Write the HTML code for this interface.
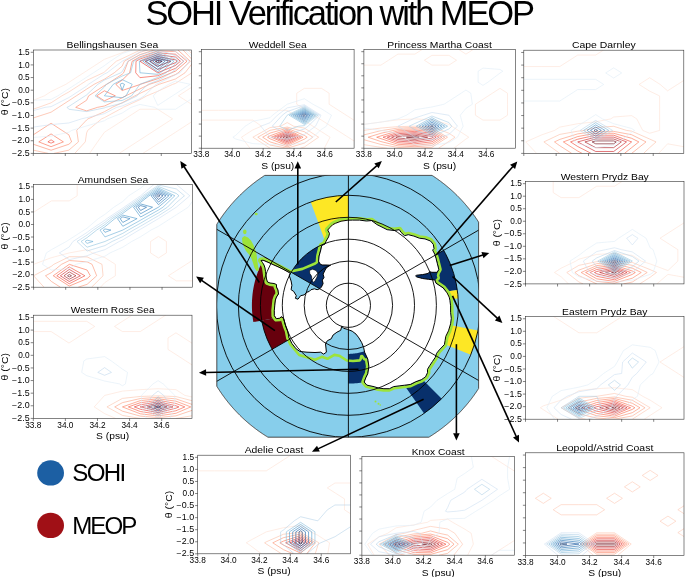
<!DOCTYPE html>
<html><head><meta charset="utf-8"><style>
html,body{margin:0;padding:0;background:#fff;}
svg{display:block;font-family:"Liberation Sans", sans-serif;will-change:transform;}
</style></head><body>
<svg width="685" height="577" viewBox="0 0 685 577">
<defs><clipPath id="clip0"><rect x="33.30" y="50.00" width="158.20" height="103.40"/></clipPath><clipPath id="clip1"><rect x="201.40" y="49.50" width="152.70" height="98.70"/></clipPath><clipPath id="clip2"><rect x="363.90" y="49.50" width="151.40" height="98.70"/></clipPath><clipPath id="clip3"><rect x="523.80" y="50.20" width="160.00" height="103.20"/></clipPath><clipPath id="clip4"><rect x="33.60" y="184.60" width="158.80" height="102.60"/></clipPath><clipPath id="clip5"><rect x="525.50" y="181.40" width="158.50" height="102.50"/></clipPath><clipPath id="clip6"><rect x="33.30" y="315.20" width="158.70" height="103.20"/></clipPath><clipPath id="clip7"><rect x="525.50" y="316.50" width="158.50" height="102.70"/></clipPath><clipPath id="clip8"><rect x="197.70" y="455.20" width="152.70" height="98.60"/></clipPath><clipPath id="clip9"><rect x="361.90" y="456.60" width="152.60" height="98.60"/></clipPath><clipPath id="clip10"><rect x="525.50" y="452.80" width="158.50" height="102.70"/></clipPath><clipPath id="mapclip"><path d="M478.60 222.13L478.42 221.84L477.91 221.05L477.39 220.25L476.86 219.46L476.33 218.68L475.80 217.89L475.26 217.11L474.72 216.34L474.17 215.56L473.62 214.79L473.06 214.03L472.50 213.26L471.93 212.50L471.36 211.75L470.78 211.00L470.20 210.25L469.61 209.50L469.02 208.76L468.43 208.02L467.83 207.29L467.23 206.56L466.62 205.83L466.01 205.10L465.39 204.38L464.77 203.67L464.14 202.96L463.51 202.25L462.88 201.54L462.24 200.84L461.60 200.15L460.95 199.45L460.30 198.77L459.64 198.08L458.98 197.40L458.32 196.72L457.65 196.05L456.98 195.38L456.30 194.72L455.62 194.06L454.93 193.40L454.25 192.75L453.55 192.10L452.86 191.46L452.16 190.82L451.45 190.19L450.74 189.56L450.03 188.93L449.32 188.31L448.60 187.69L447.87 187.08L447.14 186.47L446.41 185.87L445.68 185.27L444.94 184.68L444.20 184.09L443.45 183.50L442.70 182.92L441.95 182.34L441.20 181.77L440.44 181.20L439.67 180.64L438.91 180.08L438.14 179.53L437.36 178.98L436.59 178.44L435.81 177.90L435.02 177.37L434.24 176.84L433.45 176.31L432.65 175.79L432.04 175.40L264.76 175.40L264.15 175.79L263.35 176.31L262.56 176.84L261.78 177.37L260.99 177.90L260.21 178.44L259.44 178.98L258.66 179.53L257.89 180.08L257.13 180.64L256.36 181.20L255.60 181.77L254.85 182.34L254.10 182.92L253.35 183.50L252.60 184.09L251.86 184.68L251.12 185.27L250.39 185.87L249.66 186.47L248.93 187.08L248.20 187.69L247.48 188.31L246.77 188.93L246.06 189.56L245.35 190.19L244.64 190.82L243.94 191.46L243.25 192.10L242.55 192.75L241.87 193.40L241.18 194.06L240.50 194.72L239.82 195.38L239.15 196.05L238.48 196.72L237.82 197.40L237.16 198.08L236.50 198.77L235.85 199.45L235.20 200.15L234.56 200.84L233.92 201.54L233.29 202.25L232.66 202.96L232.03 203.67L231.41 204.38L230.79 205.10L230.18 205.83L229.57 206.56L228.97 207.29L228.37 208.02L227.78 208.76L227.19 209.50L226.60 210.25L226.02 211.00L225.44 211.75L224.87 212.50L224.30 213.26L223.74 214.03L223.18 214.79L222.63 215.56L222.08 216.34L221.54 217.11L221.00 217.89L220.47 218.68L219.94 219.46L219.41 220.25L218.89 221.05L218.38 221.84L217.87 222.64L217.37 223.45L216.87 224.25L216.80 224.36L216.80 386.24L216.87 386.35L217.37 387.15L217.87 387.96L218.38 388.76L218.89 389.55L219.41 390.35L219.94 391.14L220.47 391.92L221.00 392.71L221.54 393.49L222.08 394.26L222.63 395.04L223.18 395.81L223.74 396.57L224.30 397.34L224.87 398.10L225.44 398.85L226.02 399.60L226.60 400.35L227.19 401.10L227.78 401.84L228.37 402.58L228.97 403.31L229.57 404.04L230.18 404.77L230.79 405.50L231.41 406.22L232.03 406.93L232.66 407.64L233.29 408.35L233.92 409.06L234.56 409.76L235.20 410.45L235.85 411.15L236.50 411.83L237.16 412.52L237.82 413.20L238.48 413.88L239.15 414.55L239.82 415.22L240.50 415.88L241.18 416.54L241.87 417.20L242.55 417.85L243.25 418.50L243.94 419.14L244.64 419.78L245.35 420.41L246.06 421.04L246.77 421.67L247.48 422.29L248.20 422.91L248.93 423.52L249.66 424.13L250.39 424.73L251.12 425.33L251.86 425.92L252.60 426.51L253.35 427.10L254.10 427.68L254.85 428.26L255.60 428.83L256.36 429.40L257.13 429.96L257.89 430.52L258.66 431.07L259.44 431.62L260.21 432.16L260.99 432.70L261.78 433.23L262.56 433.76L263.35 434.29L264.15 434.81L264.94 435.32L265.74 435.83L266.55 436.33L267.35 436.83L267.95 437.20L428.85 437.20L429.45 436.83L430.25 436.33L431.06 435.83L431.86 435.32L432.65 434.81L433.45 434.29L434.24 433.76L435.02 433.23L435.81 432.70L436.59 432.16L437.36 431.62L438.14 431.07L438.91 430.52L439.67 429.96L440.44 429.40L441.20 428.83L441.95 428.26L442.70 427.68L443.45 427.10L444.20 426.51L444.94 425.92L445.68 425.33L446.41 424.73L447.14 424.13L447.87 423.52L448.60 422.91L449.32 422.29L450.03 421.67L450.74 421.04L451.45 420.41L452.16 419.78L452.86 419.14L453.55 418.50L454.25 417.85L454.93 417.20L455.62 416.54L456.30 415.88L456.98 415.22L457.65 414.55L458.32 413.88L458.98 413.20L459.64 412.52L460.30 411.83L460.95 411.15L461.60 410.45L462.24 409.76L462.88 409.06L463.51 408.35L464.14 407.64L464.77 406.93L465.39 406.22L466.01 405.50L466.62 404.77L467.23 404.04L467.83 403.31L468.43 402.58L469.02 401.84L469.61 401.10L470.20 400.35L470.78 399.60L471.36 398.85L471.93 398.10L472.50 397.34L473.06 396.57L473.62 395.81L474.17 395.04L474.72 394.26L475.26 393.49L475.80 392.71L476.33 391.92L476.86 391.14L477.39 390.35L477.91 389.55L478.42 388.76L478.60 388.47Z"/></clipPath></defs>
<rect width="685" height="577" fill="#fff"/>
<text x="145.4" y="25.0" font-size="34.5" letter-spacing="-2.12" fill="#000">SOHI Verification with MEOP</text>
<ellipse cx="50.6" cy="472.9" rx="13.4" ry="12.7" fill="#1c5fa3"/>
<ellipse cx="50.6" cy="525.4" rx="13.4" ry="12.7" fill="#a01016"/>
<text x="72.3" y="481.3" font-size="24.1" letter-spacing="-1.7" fill="#000">SOHI</text>
<text x="72.2" y="534.3" font-size="24.1" letter-spacing="-1.9" fill="#000">MEOP</text>
<g clip-path="url(#clip0)"><g fill="none" stroke-width="0.6" stroke-linejoin="round"><path d="M89.58 153.40L97.56 141.88L104.39 132.29L107.36 130.37L122.17 120.77L125.13 118.85L139.94 109.25L157.71 109.25L172.52 118.85L157.71 128.45L154.75 130.37L139.94 139.96L136.98 141.88L122.17 151.48L119.20 153.40M142.90 153.40L157.71 143.80L160.68 141.88L175.49 132.29L178.45 130.37L193.26 120.77M193.26 105.41L178.45 95.82L193.26 86.22M129.00 49.75L122.17 52.70L104.39 59.34L101.43 61.26L86.62 70.86L83.66 72.78L68.85 82.38L65.88 84.30L51.07 91.50L44.41 95.82L33.30 100.24M193.26 49.75Z" stroke="#fee1d4"/><path d="M74.77 153.40L85.25 141.88L86.62 133.02L87.73 130.37L101.66 118.85L104.39 117.67L122.17 108.05L123.28 107.33L139.94 99.65L146.89 95.82L157.71 91.34L172.75 84.30L175.49 83.41L191.89 72.78L193.26 71.01M141.31 49.75L139.94 50.19L122.17 58.61L116.24 61.26L104.39 72.06L103.28 72.78L86.62 80.46L80.70 84.30L68.85 91.98L61.89 95.82L51.07 102.83L38.77 107.33L33.30 109.10M193.26 55.23L188.03 49.75" stroke="#fdc5ae"/><path d="M33.30 150.15L48.34 153.40M53.81 153.40L68.85 150.15L78.42 141.88L76.73 130.37L86.62 119.96L87.99 118.85L104.39 111.76L112.28 107.33L122.17 102.71L134.93 95.82L139.94 93.38L157.71 84.94L159.08 84.30L175.49 78.98L185.06 72.78L193.26 62.15M148.14 49.75L139.94 52.40L124.31 61.26L122.17 66.14L114.28 72.78L104.39 79.19L94.14 84.30L86.62 89.17L76.37 95.82L68.85 100.69L58.59 107.33L51.07 112.20L33.30 117.96M193.26 60.72L182.80 49.75" stroke="#fca689"/><path d="M33.30 144.25L51.07 150.21L68.85 144.25L71.58 141.88L68.85 134.80L62.01 130.37L51.07 123.28L40.14 130.37L33.30 134.80M154.98 49.75L139.94 54.62L128.22 61.26L123.67 72.78L122.17 74.26L106.67 84.30L104.39 85.60L88.63 95.82L86.62 100.24L75.68 107.33L86.62 110.88L97.56 107.33L104.39 106.03L122.17 97.78L125.81 95.82L139.94 88.95L149.51 84.30L157.71 81.64L175.49 74.55L178.22 72.78L190.30 61.26L177.58 49.75" stroke="#fc8666"/><path d="M38.77 141.88L51.07 146.67L63.38 141.88L51.07 133.91ZM96.67 95.82L104.39 100.82L115.33 95.82L104.39 90.81ZM115.79 84.30L122.17 90.50L139.94 84.52L140.40 84.30L157.71 78.69L171.38 72.78L175.49 71.10L187.01 61.26L175.49 51.43L157.71 50.88L139.94 56.83L132.13 61.26L129.70 72.78L122.17 80.16Z" stroke="#fa6648"/><path d="M47.88 141.88L51.07 143.12L54.26 141.88L51.07 139.82ZM135.72 72.78L139.94 77.67L157.71 75.73L164.55 72.78L175.49 68.29L183.71 61.26L175.49 54.24L157.71 52.77L139.94 59.05L136.03 61.26Z" stroke="#f14130"/><path d="M139.94 61.26L157.71 72.78L175.49 65.48L180.42 61.26L175.49 57.05L157.71 54.66Z" stroke="#d82422"/><path d="M145.02 61.26L157.71 69.49L175.49 62.67L177.13 61.26L175.49 59.86L157.71 56.54Z" stroke="#bb141a"/><path d="M150.10 61.26L157.71 66.20L171.04 61.26L157.71 58.43Z" stroke="#980c13"/><path d="M155.17 61.26L157.71 62.91L162.16 61.26L157.71 60.32Z" stroke="#67000d"/></g><g fill="none" stroke-width="0.6" stroke-linejoin="round"><path d="M33.30 137.45L51.07 136.12L68.85 132.29L71.81 130.37L86.62 125.94L104.39 120.77L107.36 118.85L122.17 113.09L131.05 107.33L139.94 104.45L154.75 107.33L157.71 109.25L175.49 109.25L178.45 107.33L193.26 97.73M157.71 105.41L153.27 95.82L157.71 91.39L168.65 84.30L175.49 81.10L190.30 84.30L175.49 93.90L172.52 95.82ZM133.27 49.75L122.17 53.59L110.32 61.26L104.39 65.69L93.46 72.78L86.62 77.21L75.68 84.30L68.85 88.73L57.91 95.82L51.07 99.41L33.30 100.24M193.26 56.95L184.37 49.75" stroke="#dfecf7"/><path d="M33.30 127.08L51.07 124.61L68.85 122.96L81.54 118.85L86.62 117.64L104.39 113.67L116.61 107.33L122.17 105.96L139.94 98.69L144.38 95.82L156.10 84.30L157.71 83.68L175.49 74.70L179.93 72.78L189.37 61.26L175.49 51.67L169.56 49.75M147.26 49.75L139.94 51.87L122.17 61.26L122.17 61.26L107.13 72.78L104.39 73.99L88.49 84.30L86.62 86.07L71.58 95.82L68.85 97.59L51.07 106.61L45.15 107.33L33.30 110.62" stroke="#cddff1"/><path d="M67.07 107.33L68.85 109.25L86.62 111.58L104.39 107.91L105.50 107.33L122.17 103.22L137.16 95.82L139.94 91.98L148.02 84.30L157.71 80.56L171.60 72.78L175.49 69.12L183.82 61.26L175.49 55.51L157.71 49.75L139.94 54.90L127.90 61.26L122.17 71.73L120.80 72.78L104.39 80.06L97.85 84.30L86.62 94.93L85.25 95.82L68.85 106.45Z" stroke="#b2d2e8"/><path d="M95.04 95.82L104.39 101.88L122.17 100.48L131.61 95.82L139.94 84.30L139.94 84.30L157.71 77.45L166.04 72.78L175.49 63.88L178.26 61.26L175.49 59.34L157.71 51.28L139.94 57.93L133.63 61.26L130.59 72.78L122.17 76.02L106.44 84.30L104.39 86.96Z" stroke="#8fc2de"/><path d="M104.39 95.82L122.17 97.73L126.05 95.82L132.21 84.30L122.17 79.62L113.28 84.30ZM139.94 72.78L157.71 74.34L160.49 72.78L174.01 61.26L157.71 52.82L139.94 60.96L139.37 61.26L139.94 72.78Z" stroke="#68acd5"/><path d="M120.12 84.30L122.17 90.06L124.48 84.30L122.17 83.22ZM142.90 61.26L157.71 71.63L171.04 61.26L157.71 54.35Z" stroke="#4896c8"/><path d="M146.19 61.26L157.71 69.33L168.08 61.26L157.71 55.89Z" stroke="#2d7dbb"/><path d="M149.48 61.26L157.71 67.02L165.12 61.26L157.71 57.43Z" stroke="#1663aa"/><path d="M152.78 61.26L157.71 64.72L162.16 61.26L157.71 58.96Z" stroke="#084a91"/><path d="M156.07 61.26L157.71 62.42L159.19 61.26L157.71 60.50Z" stroke="#08306b"/></g></g>
<rect x="33.30" y="50.00" width="158.20" height="103.40" fill="none" stroke="#333" stroke-width="0.6"/>
<path d="M33.30 153.40v2.6M65.29 153.40v2.6M97.28 153.40v2.6M129.28 153.40v2.6M161.27 153.40v2.6M33.30 153.40h-2.6M33.30 140.76h-2.6M33.30 128.12h-2.6M33.30 115.48h-2.6M33.30 102.84h-2.6M33.30 90.20h-2.6M33.30 77.56h-2.6M33.30 64.92h-2.6M33.30 52.28h-2.6" stroke="#333" stroke-width="0.6" fill="none"/>
<text x="112.40" y="48.10" font-size="9.4" text-anchor="middle" textLength="91.70" lengthAdjust="spacingAndGlyphs" fill="#000">Bellingshausen Sea</text>
<text x="29.70" y="156.00" font-size="8.2" text-anchor="end" textLength="17.60" lengthAdjust="spacingAndGlyphs" fill="#000">−2.5</text>
<text x="29.70" y="143.36" font-size="8.2" text-anchor="end" textLength="17.60" lengthAdjust="spacingAndGlyphs" fill="#000">−2.0</text>
<text x="29.70" y="130.72" font-size="8.2" text-anchor="end" textLength="17.60" lengthAdjust="spacingAndGlyphs" fill="#000">−1.5</text>
<text x="29.70" y="118.08" font-size="8.2" text-anchor="end" textLength="17.60" lengthAdjust="spacingAndGlyphs" fill="#000">−1.0</text>
<text x="29.70" y="105.44" font-size="8.2" text-anchor="end" textLength="17.60" lengthAdjust="spacingAndGlyphs" fill="#000">−0.5</text>
<text x="29.70" y="92.80" font-size="8.2" text-anchor="end" textLength="11.53" lengthAdjust="spacingAndGlyphs" fill="#000">0.0</text>
<text x="29.70" y="80.16" font-size="8.2" text-anchor="end" textLength="11.53" lengthAdjust="spacingAndGlyphs" fill="#000">0.5</text>
<text x="29.70" y="67.52" font-size="8.2" text-anchor="end" textLength="11.53" lengthAdjust="spacingAndGlyphs" fill="#000">1.0</text>
<text x="29.70" y="54.88" font-size="8.2" text-anchor="end" textLength="11.53" lengthAdjust="spacingAndGlyphs" fill="#000">1.5</text>
<text x="0" y="0" font-size="9.4" text-anchor="middle" textLength="27.34" lengthAdjust="spacingAndGlyphs" fill="#000" transform="translate(8.00 101.70) rotate(-90)">θ (°C)</text>
<g clip-path="url(#clip1)"><g fill="none" stroke-width="0.6" stroke-linejoin="round"><path d="M324.35 148.20L330.07 137.21L321.49 131.71L312.91 126.21L304.33 120.72L294.80 115.22L287.18 110.33L270.02 110.33L252.87 110.33L235.71 110.33L218.56 110.33L201.40 110.33M201.40 120.11L218.56 120.11L235.71 120.11L252.87 120.11L261.44 126.21L252.87 129.88L241.43 137.21L250.01 148.20M355.80 121.33L346.27 115.22L338.64 110.33L329.11 104.23L329.11 93.23L321.49 88.35L304.33 88.35L296.71 93.23L296.71 104.23L304.33 109.11L313.86 115.22L321.49 120.11L331.02 126.21L338.64 131.10L348.17 137.21L355.80 142.09" stroke="#fee1d4"/><path d="M300.37 148.20L304.33 147.02L318.63 137.21L304.33 128.05L293.61 126.21L287.18 122.55L280.74 126.21L270.02 127.59L252.87 137.21L270.02 148.20L270.02 148.20" stroke="#fdc7b2"/><path d="M257.77 137.21L270.02 145.06L287.18 148.20L304.33 143.10L312.91 137.21L304.33 131.71L287.18 127.05L270.02 130.34Z" stroke="#fcad90"/><path d="M262.67 137.21L270.02 141.92L287.18 146.91L304.33 139.17L307.19 137.21L304.33 135.37L287.18 128.24L270.02 133.08Z" stroke="#fc8f6f"/><path d="M267.57 137.21L270.02 138.78L287.18 145.61L303.11 137.21L287.18 129.44L270.02 135.83Z" stroke="#fb7353"/><path d="M271.45 137.21L287.18 144.32L300.66 137.21L287.18 130.63Z" stroke="#f5533b"/><path d="M274.31 137.21L287.18 143.03L298.21 137.21L287.18 131.83Z" stroke="#e93529"/><path d="M277.17 137.21L287.18 141.73L295.75 137.21L287.18 133.02Z" stroke="#cf1c1f"/><path d="M280.03 137.21L287.18 140.44L293.30 137.21L287.18 134.22Z" stroke="#b51318"/><path d="M282.89 137.21L287.18 139.15L290.85 137.21L287.18 135.41Z" stroke="#920a13"/><path d="M285.75 137.21L287.18 137.85L288.40 137.21L287.18 136.61Z" stroke="#67000d"/></g><g fill="none" stroke-width="0.6" stroke-linejoin="round"><path d="M232.85 137.21L235.71 139.04L252.87 143.62L270.02 144.54L287.18 145.15L304.33 142.70L312.91 137.21L321.49 129.35L326.39 126.21L331.49 115.22L321.49 108.81L312.91 104.23L304.33 98.73L287.18 104.23L287.18 104.23L272.47 115.22L270.02 117.72L252.87 121.33L245.24 126.21L235.71 135.37Z" stroke="#dfecf7"/><path d="M270.02 137.21L287.18 139.04L293.61 137.21L304.33 134.46L315.52 126.21L321.01 115.22L304.33 104.73L287.18 107.89L277.37 115.22L270.02 122.72L260.78 126.21L270.02 137.21Z" stroke="#d0e1f2"/><path d="M272.26 126.21L287.18 134.36L304.33 128.96L308.06 126.21L319.42 115.22L304.33 105.73L287.18 111.56L282.28 115.22Z" stroke="#bdd7ec"/><path d="M279.72 126.21L287.18 130.28L298.61 126.21L304.33 125.60L317.83 115.22L304.33 106.72L287.18 115.22L287.18 115.22Z" stroke="#a3cce3"/><path d="M289.20 115.22L304.33 124.38L316.25 115.22L304.33 107.72Z" stroke="#84bcdb"/><path d="M291.21 115.22L304.33 123.16L314.66 115.22L304.33 108.72Z" stroke="#64a9d3"/><path d="M293.23 115.22L304.33 121.94L313.07 115.22L304.33 109.72Z" stroke="#4a98c9"/><path d="M295.25 115.22L304.33 120.72L311.48 115.22L304.33 110.72Z" stroke="#3383be"/><path d="M297.27 115.22L304.33 119.49L309.89 115.22L304.33 111.72Z" stroke="#1f6eb3"/><path d="M299.29 115.22L304.33 118.27L308.30 115.22L304.33 112.72Z" stroke="#0e59a2"/><path d="M301.30 115.22L304.33 117.05L306.71 115.22L304.33 113.72Z" stroke="#08458a"/><path d="M303.32 115.22L304.33 115.83L305.13 115.22L304.33 114.72Z" stroke="#08306b"/></g></g>
<rect x="201.40" y="49.50" width="152.70" height="98.70" fill="none" stroke="#333" stroke-width="0.6"/>
<path d="M201.40 148.20v2.6M232.28 148.20v2.6M263.16 148.20v2.6M294.04 148.20v2.6M324.92 148.20v2.6M201.40 148.20h-2.6M201.40 136.13h-2.6M201.40 124.07h-2.6M201.40 112.00h-2.6M201.40 99.94h-2.6M201.40 87.87h-2.6M201.40 75.80h-2.6M201.40 63.74h-2.6M201.40 51.67h-2.6" stroke="#333" stroke-width="0.6" fill="none"/>
<text x="277.75" y="47.60" font-size="9.4" text-anchor="middle" textLength="57.97" lengthAdjust="spacingAndGlyphs" fill="#000">Weddell Sea</text>
<text x="201.40" y="157.30" font-size="8.2" text-anchor="middle" textLength="16.14" lengthAdjust="spacingAndGlyphs" fill="#000">33.8</text>
<text x="232.28" y="157.30" font-size="8.2" text-anchor="middle" textLength="16.14" lengthAdjust="spacingAndGlyphs" fill="#000">34.0</text>
<text x="263.16" y="157.30" font-size="8.2" text-anchor="middle" textLength="16.14" lengthAdjust="spacingAndGlyphs" fill="#000">34.2</text>
<text x="294.04" y="157.30" font-size="8.2" text-anchor="middle" textLength="16.14" lengthAdjust="spacingAndGlyphs" fill="#000">34.4</text>
<text x="324.92" y="157.30" font-size="8.2" text-anchor="middle" textLength="16.14" lengthAdjust="spacingAndGlyphs" fill="#000">34.6</text>
<text x="277.75" y="168.60" font-size="9.4" text-anchor="middle" textLength="33.11" lengthAdjust="spacingAndGlyphs" fill="#000">S (psu)</text>
<g clip-path="url(#clip2)"><g fill="none" stroke-width="0.6" stroke-linejoin="round"><path d="M453.81 148.20L465.96 139.04L468.79 137.21L465.96 135.37L451.78 126.21L448.95 124.38L431.94 119.80L414.93 118.88L397.92 119.80L380.91 122.09L363.90 124.38M475.41 115.22L482.97 120.11L499.97 120.11L507.53 115.22L507.53 104.23L507.53 93.23L499.97 88.35L492.41 93.23L482.97 99.34L475.41 104.23ZM363.90 65.14L380.91 65.14L388.47 60.25L397.92 54.14L414.93 54.14L422.49 49.26M424.38 60.25L431.94 65.14L448.95 65.14L456.51 60.25L448.95 55.37L431.94 55.37ZM458.40 49.26L465.96 54.14L473.52 49.26" stroke="#fee1d4"/><path d="M363.90 144.70L380.91 147.33L387.29 148.20M438.48 148.20L448.95 141.43L455.02 137.21L448.95 133.28L431.94 126.70L414.93 126.21L397.92 126.64L380.91 128.05L363.90 130.34" stroke="#fdc5ae"/><path d="M363.90 139.71L380.91 144.44L397.92 147.41L414.93 148.20L431.94 147.28L447.53 137.21L431.94 128.31L414.93 127.51L397.92 128.05L380.91 130.66L363.90 134.92" stroke="#fca689"/><path d="M368.15 137.21L380.91 141.55L397.92 145.84L414.93 146.73L431.94 145.45L444.69 137.21L431.94 129.93L414.93 128.80L397.92 129.45L380.91 133.28Z" stroke="#fc8666"/><path d="M376.66 137.21L380.91 138.65L397.92 144.27L414.93 145.27L431.94 143.62L441.86 137.21L431.94 131.55L414.93 130.09L397.92 130.86L380.91 135.90Z" stroke="#fa6648"/><path d="M383.04 137.21L397.92 142.70L414.93 143.80L431.94 141.79L439.02 137.21L431.94 133.16L414.93 131.39L397.92 132.27Z" stroke="#f14130"/><path d="M387.29 137.21L397.92 141.13L414.93 142.34L431.94 139.95L436.19 137.21L431.94 134.78L414.93 132.68L397.92 133.68Z" stroke="#d82422"/><path d="M391.54 137.21L397.92 139.56L414.93 140.87L431.94 138.12L433.35 137.21L431.94 136.40L414.93 133.97L397.92 135.09Z" stroke="#bb141a"/><path d="M395.79 137.21L397.92 137.99L414.93 139.41L427.68 137.21L414.93 135.27L397.92 136.50Z" stroke="#980c13"/><path d="M406.42 137.21L414.93 137.94L419.18 137.21L414.93 136.56Z" stroke="#67000d"/></g><g fill="none" stroke-width="0.6" stroke-linejoin="round"><path d="M363.90 128.05L380.91 130.34L397.92 133.54L403.59 137.21L414.93 144.54L431.94 145.45L448.95 142.70L457.45 137.21L463.12 126.21L460.29 115.22L465.96 108.35L472.33 104.23L470.82 93.23L465.96 90.09L461.10 93.23L448.95 101.09L444.09 104.23L431.94 106.97L414.93 109.72L406.42 115.22L397.92 118.88L380.91 122.09L363.90 124.38M478.11 82.24L482.97 85.38L487.83 82.24L499.97 73.08L502.81 71.25L499.97 69.41L482.97 68.10L478.11 71.25Z" stroke="#dfecf7"/><path d="M414.93 137.21L431.94 139.95L440.44 137.21L448.95 134.46L457.45 126.21L448.95 115.22L448.95 115.22L431.94 112.47L423.43 115.22L414.93 117.97L397.92 126.21L414.93 137.21Z" stroke="#cadef0"/><path d="M409.26 126.21L414.93 129.88L431.94 136.42L448.95 128.96L451.78 126.21L448.95 122.55L431.94 116.00L414.93 123.46Z" stroke="#a9cfe5"/><path d="M416.35 126.21L431.94 134.85L447.53 126.21L431.94 117.58Z" stroke="#7fb9da"/><path d="M419.18 126.21L431.94 133.28L444.69 126.21L431.94 119.15Z" stroke="#57a0ce"/><path d="M422.02 126.21L431.94 131.71L441.86 126.21L431.94 120.72Z" stroke="#3686c0"/><path d="M424.85 126.21L431.94 130.14L439.02 126.21L431.94 122.29Z" stroke="#1b69af"/><path d="M427.68 126.21L431.94 128.57L436.19 126.21L431.94 123.86Z" stroke="#084d96"/><path d="M430.52 126.21L431.94 127.00L433.35 126.21L431.94 125.43Z" stroke="#08306b"/></g></g>
<rect x="363.90" y="49.50" width="151.40" height="98.70" fill="none" stroke="#333" stroke-width="0.6"/>
<path d="M363.90 148.20v2.6M394.52 148.20v2.6M425.13 148.20v2.6M455.75 148.20v2.6M486.37 148.20v2.6M363.90 148.20h-2.6M363.90 136.13h-2.6M363.90 124.07h-2.6M363.90 112.00h-2.6M363.90 99.94h-2.6M363.90 87.87h-2.6M363.90 75.80h-2.6M363.90 63.74h-2.6M363.90 51.67h-2.6" stroke="#333" stroke-width="0.6" fill="none"/>
<text x="439.60" y="47.60" font-size="9.4" text-anchor="middle" textLength="104.46" lengthAdjust="spacingAndGlyphs" fill="#000">Princess Martha Coast</text>
<text x="363.90" y="157.30" font-size="8.2" text-anchor="middle" textLength="16.14" lengthAdjust="spacingAndGlyphs" fill="#000">33.8</text>
<text x="394.52" y="157.30" font-size="8.2" text-anchor="middle" textLength="16.14" lengthAdjust="spacingAndGlyphs" fill="#000">34.0</text>
<text x="425.13" y="157.30" font-size="8.2" text-anchor="middle" textLength="16.14" lengthAdjust="spacingAndGlyphs" fill="#000">34.2</text>
<text x="455.75" y="157.30" font-size="8.2" text-anchor="middle" textLength="16.14" lengthAdjust="spacingAndGlyphs" fill="#000">34.4</text>
<text x="486.37" y="157.30" font-size="8.2" text-anchor="middle" textLength="16.14" lengthAdjust="spacingAndGlyphs" fill="#000">34.6</text>
<text x="439.60" y="168.60" font-size="9.4" text-anchor="middle" textLength="33.11" lengthAdjust="spacingAndGlyphs" fill="#000">S (psu)</text>
<g clip-path="url(#clip3)"><g fill="none" stroke-width="0.6" stroke-linejoin="round"><path d="M658.62 153.40L667.60 143.82L685.58 147.01M685.58 79.32L677.59 84.43L667.60 90.82L660.11 84.43L649.63 77.73L639.14 84.43L649.63 91.14L659.61 95.93L659.61 107.42L659.61 118.92L659.61 130.41L649.63 133.28L642.71 130.41L636.79 118.92L631.65 115.63L613.68 117.00L610.68 118.92L595.70 121.79L577.73 123.71L559.75 127.13L554.62 130.41L541.78 134.83L525.80 141.91L536.64 153.40M523.80 66.55L541.78 66.55L559.75 66.55L567.74 61.44L577.73 55.06L595.70 55.06L603.69 49.95" stroke="#fee1d4"/><path d="M643.64 153.40L649.63 147.65L656.05 141.91L649.63 139.03L631.65 131.13L626.52 130.41L613.68 126.31L595.70 127.54L584.47 130.41L577.73 131.21L559.75 134.41L543.89 141.91L559.75 153.40L559.75 153.40" stroke="#fcbda4"/><path d="M631.65 153.40L631.65 153.40L646.03 141.91L631.65 134.72L613.68 131.37L595.70 131.37L577.73 133.89L559.75 139.41L554.46 141.91L559.75 145.74L571.73 153.40" stroke="#fc9373"/><path d="M624.46 153.40L631.65 147.65L638.84 141.91L631.65 138.31L613.68 133.28L595.70 133.28L577.73 136.56L563.35 141.91L577.73 151.10L582.22 153.40" stroke="#fb6b4b"/><path d="M617.27 153.40L631.65 141.91L613.68 135.20L595.70 135.20L577.73 139.23L570.54 141.91L577.73 146.50L591.21 153.40" stroke="#ef3c2c"/><path d="M577.73 141.91L595.70 151.48L613.68 151.48L626.52 141.91L613.68 137.12L595.70 137.12Z" stroke="#cb181d"/><path d="M584.92 141.91L595.70 147.65L613.68 147.65L621.38 141.91L613.68 139.03L595.70 139.03Z" stroke="#a50f15"/><path d="M592.11 141.91L595.70 143.82L613.68 143.82L616.25 141.91L613.68 140.95L595.70 140.95Z" stroke="#67000d"/></g><g fill="none" stroke-width="0.6" stroke-linejoin="round"><path d="M574.73 141.91L577.73 143.82L595.70 147.65L613.68 145.19L618.81 141.91L631.65 132.33L634.65 130.41L631.65 128.49L613.68 123.71L602.44 118.92L595.70 114.61L588.96 118.92L577.73 126.10L570.99 130.41ZM523.80 101.04L541.78 101.04L559.75 101.04L567.74 95.93L577.73 89.54L595.70 89.54L603.69 84.43L595.70 79.32L577.73 79.32L559.75 79.32L541.78 79.32L523.80 79.32M605.69 72.94L613.68 78.05L621.67 72.94L613.68 67.83Z" stroke="#dfecf7"/><path d="M580.15 130.41L595.70 140.76L612.55 130.41L595.70 120.46Z" stroke="#b8d5ea"/><path d="M583.60 130.41L595.70 138.46L608.81 130.41L595.70 122.67Z" stroke="#77b5d9"/><path d="M587.06 130.41L595.70 136.16L605.06 130.41L595.70 124.88Z" stroke="#3c8cc3"/><path d="M590.52 130.41L595.70 133.86L601.32 130.41L595.70 127.09Z" stroke="#125ea6"/><path d="M593.97 130.41L595.70 131.56L597.57 130.41L595.70 129.31Z" stroke="#08306b"/></g></g>
<rect x="523.80" y="50.20" width="160.00" height="103.20" fill="none" stroke="#333" stroke-width="0.6"/>
<path d="M523.80 153.40v2.6M556.16 153.40v2.6M588.51 153.40v2.6M620.87 153.40v2.6M653.22 153.40v2.6M523.80 153.40h-2.6M523.80 140.78h-2.6M523.80 128.17h-2.6M523.80 115.55h-2.6M523.80 102.94h-2.6M523.80 90.32h-2.6M523.80 77.70h-2.6M523.80 65.09h-2.6M523.80 52.47h-2.6" stroke="#333" stroke-width="0.6" fill="none"/>
<text x="603.80" y="48.30" font-size="9.4" text-anchor="middle" textLength="63.68" lengthAdjust="spacingAndGlyphs" fill="#000">Cape Darnley</text>
<g clip-path="url(#clip4)"><g fill="none" stroke-width="0.6" stroke-linejoin="round"><path d="M100.50 287.20L104.96 282.44L115.37 275.77L115.37 264.34L104.96 257.68L92.22 252.92L87.12 249.65L69.28 252.92L69.28 252.92L51.44 257.68L33.60 264.34L33.60 264.34M150.56 252.92L158.48 258.00L166.41 252.92L166.41 241.49L158.48 236.41L150.56 241.49ZM194.17 259.27L186.24 264.34L176.33 270.69L168.40 275.77L176.33 280.85L194.17 280.85M33.60 212.28L41.53 207.20L51.44 200.86L69.28 200.86L77.21 195.78L77.21 184.35" stroke="#fee1d4"/><path d="M91.58 287.20L103.05 275.77L101.99 264.34L87.12 256.89L69.28 256.73L53.77 264.34L51.44 266.25L33.60 275.77L44.01 287.20" stroke="#fcbda4"/><path d="M78.20 287.20L87.12 284.34L96.68 275.77L92.08 264.34L87.12 261.86L69.28 260.53L61.52 264.34L51.44 272.60L45.49 275.77L51.44 281.49L60.36 287.20" stroke="#fc9373"/><path d="M53.22 275.77L69.28 286.06L87.12 278.63L90.31 275.77L87.12 270.06L69.28 264.34Z" stroke="#fb6b4b"/><path d="M56.79 275.77L69.28 283.77L84.89 275.77L69.28 266.88Z" stroke="#ef3c2c"/><path d="M60.36 275.77L69.28 281.49L80.43 275.77L69.28 269.42Z" stroke="#cb181d"/><path d="M63.93 275.77L69.28 279.20L75.97 275.77L69.28 271.96Z" stroke="#a50f15"/><path d="M67.50 275.77L69.28 276.91L71.51 275.77L69.28 274.50Z" stroke="#67000d"/></g><g fill="none" stroke-width="0.6" stroke-linejoin="round"><path d="M145.10 184.35L140.64 188.16L128.75 195.78L122.80 201.49L113.88 207.20L104.96 214.35L98.27 218.63L87.12 228.16L84.15 230.06L69.28 239.58L66.31 241.49L51.44 249.65L46.34 252.92L42.52 264.34L51.44 270.06L69.28 268.63L75.97 264.34L87.12 261.49L104.96 256.18L110.06 252.92L122.80 247.20L131.72 241.49L140.64 236.73L151.05 230.06L158.48 226.25L170.38 218.63L176.33 214.82L188.22 207.20L194.17 199.04M194.17 184.35Z" stroke="#dfecf7"/><path d="M154.02 184.35L140.64 195.78L140.64 195.78L123.99 207.20L122.80 208.08L106.83 218.63L104.96 220.17L90.10 230.06L87.12 232.40L72.93 241.49L69.28 246.90L59.37 252.92L69.28 259.64L87.12 255.77L93.98 252.92L104.96 249.65L119.24 241.49L122.80 239.86L139.02 230.06L140.64 229.16L158.48 218.63L158.48 218.63L176.33 207.20L176.33 207.20L189.84 195.78L176.33 184.35L176.33 184.35" stroke="#cddff1"/><path d="M76.99 241.49L87.12 251.01L104.96 245.57L112.10 241.49L122.80 236.59L133.62 230.06L140.64 226.15L153.39 218.63L158.48 215.78L171.87 207.20L176.33 202.63L184.43 195.78L176.33 188.92L158.48 185.06L142.74 195.78L140.64 197.41L126.37 207.20L122.80 209.84L109.49 218.63L104.96 222.37L93.40 230.06L87.12 235.00Z" stroke="#b2d2e8"/><path d="M81.04 241.49L87.12 247.20L104.96 241.49L104.96 241.49L122.80 233.33L128.21 230.06L140.64 223.14L148.29 218.63L158.48 212.92L167.41 207.20L176.33 198.06L179.03 195.78L176.33 193.49L158.48 186.49L144.84 195.78L140.64 199.04L128.75 207.20L122.80 211.60L112.15 218.63L104.96 224.57L96.70 230.06L87.12 237.59Z" stroke="#8fc2de"/><path d="M85.09 241.49L87.12 243.39L93.07 241.49L87.12 240.19ZM100.01 230.06L104.96 236.92L122.80 230.06L122.80 230.06L140.64 220.14L143.19 218.63L158.48 210.06L162.95 207.20L174.84 195.78L158.48 187.92L146.94 195.78L140.64 200.67L131.13 207.20L122.80 213.36L114.82 218.63L104.96 226.76Z" stroke="#68acd5"/><path d="M103.31 230.06L104.96 232.35L110.91 230.06L104.96 228.96ZM117.48 218.63L122.80 226.25L137.08 218.63L122.80 215.12ZM133.51 207.20L140.64 217.00L158.48 207.20L158.48 207.20L171.87 195.78L158.48 189.35L149.04 195.78L140.64 202.31Z" stroke="#4896c8"/><path d="M120.14 218.63L122.80 222.44L129.94 218.63L122.80 216.87ZM135.89 207.20L140.64 213.74L152.54 207.20L140.64 203.94ZM151.14 195.78L158.48 204.67L168.89 195.78L158.48 190.78Z" stroke="#2d7dbb"/><path d="M138.27 207.20L140.64 210.47L146.59 207.20L140.64 205.57ZM153.24 195.78L158.48 202.13L165.92 195.78L158.48 192.21Z" stroke="#1663aa"/><path d="M155.34 195.78L158.48 199.59L162.95 195.78L158.48 193.63Z" stroke="#084a91"/><path d="M157.44 195.78L158.48 197.05L159.97 195.78L158.48 195.06Z" stroke="#08306b"/></g></g>
<rect x="33.60" y="184.60" width="158.80" height="102.60" fill="none" stroke="#333" stroke-width="0.6"/>
<path d="M33.60 287.20v2.6M65.71 287.20v2.6M97.83 287.20v2.6M129.94 287.20v2.6M162.05 287.20v2.6M33.60 287.20h-2.6M33.60 274.66h-2.6M33.60 262.11h-2.6M33.60 249.57h-2.6M33.60 237.03h-2.6M33.60 224.49h-2.6M33.60 211.94h-2.6M33.60 199.40h-2.6M33.60 186.86h-2.6" stroke="#333" stroke-width="0.6" fill="none"/>
<text x="113.00" y="182.70" font-size="9.4" text-anchor="middle" textLength="70.61" lengthAdjust="spacingAndGlyphs" fill="#000">Amundsen Sea</text>
<text x="30.00" y="289.80" font-size="8.2" text-anchor="end" textLength="17.60" lengthAdjust="spacingAndGlyphs" fill="#000">−2.5</text>
<text x="30.00" y="277.26" font-size="8.2" text-anchor="end" textLength="17.60" lengthAdjust="spacingAndGlyphs" fill="#000">−2.0</text>
<text x="30.00" y="264.71" font-size="8.2" text-anchor="end" textLength="17.60" lengthAdjust="spacingAndGlyphs" fill="#000">−1.5</text>
<text x="30.00" y="252.17" font-size="8.2" text-anchor="end" textLength="17.60" lengthAdjust="spacingAndGlyphs" fill="#000">−1.0</text>
<text x="30.00" y="239.63" font-size="8.2" text-anchor="end" textLength="17.60" lengthAdjust="spacingAndGlyphs" fill="#000">−0.5</text>
<text x="30.00" y="227.09" font-size="8.2" text-anchor="end" textLength="11.53" lengthAdjust="spacingAndGlyphs" fill="#000">0.0</text>
<text x="30.00" y="214.54" font-size="8.2" text-anchor="end" textLength="11.53" lengthAdjust="spacingAndGlyphs" fill="#000">0.5</text>
<text x="30.00" y="202.00" font-size="8.2" text-anchor="end" textLength="11.53" lengthAdjust="spacingAndGlyphs" fill="#000">1.0</text>
<text x="30.00" y="189.46" font-size="8.2" text-anchor="end" textLength="11.53" lengthAdjust="spacingAndGlyphs" fill="#000">1.5</text>
<text x="0" y="0" font-size="9.4" text-anchor="middle" textLength="27.34" lengthAdjust="spacingAndGlyphs" fill="#000" transform="translate(8.30 235.90) rotate(-90)">θ (°C)</text>
<g clip-path="url(#clip5)"><g fill="none" stroke-width="0.6" stroke-linejoin="round"><path d="M656.83 283.90L667.96 274.39L685.76 277.56M685.76 221.74L677.85 226.82L667.96 233.16L660.04 238.23L667.96 243.31L677.85 249.65L677.85 261.07L667.96 270.58L650.15 263.92L641.25 261.07L632.34 255.36L614.53 253.46L596.73 254.41L578.92 259.16L575.95 261.07L561.11 268.20L554.44 272.48L561.11 276.76L568.53 283.90M553.20 181.15L553.20 192.57L561.11 197.64L578.92 197.64L586.84 192.57L596.73 186.22L614.53 186.22L622.45 181.15" stroke="#fee1d4"/><path d="M639.76 283.90L650.15 277.24L656.51 272.48L650.15 269.63L632.34 262.49L614.53 261.07L596.73 261.66L578.92 265.35L566.78 272.48L578.92 282.00L583.03 283.90" stroke="#fdc5ae"/><path d="M623.44 283.90L632.34 282.00L647.18 272.48L632.34 265.35L614.53 262.41L596.73 263.63L578.92 270.10L574.87 272.48L578.92 275.65L596.73 283.90L596.73 283.90" stroke="#fca689"/><path d="M581.15 272.48L596.73 281.36L614.53 283.08L632.34 278.19L641.25 272.48L632.34 268.20L614.53 263.75L596.73 265.59Z" stroke="#fc8666"/><path d="M585.60 272.48L596.73 278.83L614.53 281.45L632.34 274.39L635.31 272.48L632.34 271.06L614.53 265.10L596.73 267.56Z" stroke="#fa6648"/><path d="M590.05 272.48L596.73 276.29L614.53 279.82L630.56 272.48L614.53 266.44L596.73 269.53Z" stroke="#f14130"/><path d="M594.50 272.48L596.73 273.75L614.53 278.19L627.00 272.48L614.53 267.78L596.73 271.50Z" stroke="#d82422"/><path d="M599.70 272.48L614.53 276.56L623.44 272.48L614.53 269.13Z" stroke="#bb141a"/><path d="M605.63 272.48L614.53 274.93L619.88 272.48L614.53 270.47Z" stroke="#980c13"/><path d="M611.57 272.48L614.53 273.30L616.32 272.48L614.53 271.81Z" stroke="#67000d"/></g><g fill="none" stroke-width="0.6" stroke-linejoin="round"><path d="M572.24 272.48L578.92 276.76L596.73 281.05L614.53 282.00L632.34 280.09L650.15 274.39L653.12 272.48L656.83 261.07L653.12 249.65L650.15 247.75L646.10 238.23L632.34 229.41L618.58 238.23L614.53 241.40L596.73 242.99L586.34 249.65L578.92 255.36L570.02 261.07Z" stroke="#dfecf7"/><path d="M589.31 272.48L596.73 275.34L614.53 278.19L632.34 272.48L632.34 272.48L645.53 261.07L632.34 251.93L621.21 249.65L614.53 247.75L605.63 249.65L596.73 251.55L583.37 261.07ZM626.68 238.23L632.34 244.89L638.01 238.23L632.34 234.60Z" stroke="#cee0f2"/><path d="M605.63 272.48L614.53 274.39L620.47 272.48L632.34 266.77L638.94 261.07L632.34 256.50L614.53 250.52L596.73 257.90L592.28 261.07L596.73 266.77Z" stroke="#b8d5ea"/><path d="M597.84 261.07L614.53 271.77L632.34 261.07L614.53 251.76Z" stroke="#9ac8e0"/><path d="M600.07 261.07L614.53 270.34L629.97 261.07L614.53 253.00Z" stroke="#77b5d9"/><path d="M602.29 261.07L614.53 268.92L627.59 261.07L614.53 254.24Z" stroke="#57a0ce"/><path d="M604.52 261.07L614.53 267.49L625.22 261.07L614.53 255.48Z" stroke="#3c8cc3"/><path d="M606.74 261.07L614.53 266.06L622.84 261.07L614.53 256.72Z" stroke="#2474b7"/><path d="M608.97 261.07L614.53 264.63L620.47 261.07L614.53 257.96Z" stroke="#125ea6"/><path d="M611.20 261.07L614.53 263.21L618.10 261.07L614.53 259.21Z" stroke="#08478d"/><path d="M613.42 261.07L614.53 261.78L615.72 261.07L614.53 260.45Z" stroke="#08306b"/></g></g>
<rect x="525.50" y="181.40" width="158.50" height="102.50" fill="none" stroke="#333" stroke-width="0.6"/>
<path d="M525.50 283.90v2.6M557.55 283.90v2.6M589.61 283.90v2.6M621.66 283.90v2.6M653.71 283.90v2.6M525.50 283.90h-2.6M525.50 271.37h-2.6M525.50 258.84h-2.6M525.50 246.31h-2.6M525.50 233.78h-2.6M525.50 221.25h-2.6M525.50 208.72h-2.6M525.50 196.19h-2.6M525.50 183.66h-2.6" stroke="#333" stroke-width="0.6" fill="none"/>
<text x="604.75" y="179.50" font-size="9.4" text-anchor="middle" textLength="88.13" lengthAdjust="spacingAndGlyphs" fill="#000">Western Prydz Bay</text>
<text x="521.90" y="286.50" font-size="8.2" text-anchor="end" textLength="17.60" lengthAdjust="spacingAndGlyphs" fill="#000">−2.5</text>
<text x="521.90" y="273.97" font-size="8.2" text-anchor="end" textLength="17.60" lengthAdjust="spacingAndGlyphs" fill="#000">−2.0</text>
<text x="521.90" y="261.44" font-size="8.2" text-anchor="end" textLength="17.60" lengthAdjust="spacingAndGlyphs" fill="#000">−1.5</text>
<text x="521.90" y="248.91" font-size="8.2" text-anchor="end" textLength="17.60" lengthAdjust="spacingAndGlyphs" fill="#000">−1.0</text>
<text x="521.90" y="236.38" font-size="8.2" text-anchor="end" textLength="17.60" lengthAdjust="spacingAndGlyphs" fill="#000">−0.5</text>
<text x="521.90" y="223.85" font-size="8.2" text-anchor="end" textLength="11.53" lengthAdjust="spacingAndGlyphs" fill="#000">0.0</text>
<text x="521.90" y="211.32" font-size="8.2" text-anchor="end" textLength="11.53" lengthAdjust="spacingAndGlyphs" fill="#000">0.5</text>
<text x="521.90" y="198.79" font-size="8.2" text-anchor="end" textLength="11.53" lengthAdjust="spacingAndGlyphs" fill="#000">1.0</text>
<text x="521.90" y="186.26" font-size="8.2" text-anchor="end" textLength="11.53" lengthAdjust="spacingAndGlyphs" fill="#000">1.5</text>
<text x="0" y="0" font-size="9.4" text-anchor="middle" textLength="27.34" lengthAdjust="spacingAndGlyphs" fill="#000" transform="translate(500.20 232.65) rotate(-90)">θ (°C)</text>
<g clip-path="url(#clip6)"><g fill="none" stroke-width="0.6" stroke-linejoin="round"><path d="M193.77 397.33L184.85 395.41L175.94 389.66L158.11 388.71L140.28 389.66L122.45 391.10L104.62 395.41L104.62 395.41L94.22 406.91L104.62 413.61L115.76 418.40M193.77 344.32L183.86 337.94L175.94 332.83L168.01 337.94L168.01 349.43L175.94 354.54L185.84 360.93L193.77 366.04M33.30 331.55L51.13 331.55L61.03 337.94L68.96 343.05L76.88 337.94L86.79 331.55L94.71 326.44L86.79 321.33L68.96 321.33L51.13 321.33L33.30 321.33M132.35 314.95L122.45 321.33L114.52 326.44L122.45 331.55L140.28 331.55L148.20 326.44L158.11 320.06L166.03 314.95" stroke="#fee1d4"/><path d="M175.94 418.40L175.94 418.40L193.77 415.53M193.77 401.16L175.94 396.56L158.11 395.85L140.28 396.46L122.45 398.39L106.94 406.91L122.45 415.42L140.28 418.40L140.28 418.40" stroke="#fcc2aa"/><path d="M193.77 404.99L175.94 398.86L158.11 397.33L140.28 398.55L122.45 402.65L114.70 406.91L122.45 411.16L140.28 416.10L158.11 417.58L175.94 415.85L193.77 409.78" stroke="#fc9d7f"/><path d="M122.45 406.91L140.28 413.80L158.11 415.94L175.94 413.29L190.79 406.91L175.94 401.16L158.11 398.80L140.28 400.64Z" stroke="#fb7a5a"/><path d="M128.39 406.91L140.28 411.50L158.11 414.29L175.94 410.74L184.85 406.91L175.94 403.46L158.11 400.27L140.28 402.73Z" stroke="#f5533b"/><path d="M134.33 406.91L140.28 409.20L158.11 412.65L175.94 408.18L178.91 406.91L175.94 405.76L158.11 401.75L140.28 404.82Z" stroke="#e22e27"/><path d="M140.28 406.91L158.11 411.01L172.96 406.91L158.11 403.22Z" stroke="#c2161b"/><path d="M147.41 406.91L158.11 409.37L167.02 406.91L158.11 404.69Z" stroke="#9d0d14"/><path d="M154.54 406.91L158.11 407.73L161.08 406.91L158.11 406.17Z" stroke="#67000d"/></g><g fill="none" stroke-width="0.6" stroke-linejoin="round"><path d="M169.99 418.40L174.45 406.91L174.82 395.41L163.20 383.92L158.11 380.63L153.01 383.92L141.39 395.41L141.76 406.91L146.22 418.40M119.48 383.92L122.45 385.83L125.42 383.92L127.54 372.42L122.45 369.14L111.30 360.93L104.62 356.62L86.79 359.01L83.82 360.93L81.69 372.42L86.79 375.71L104.62 381.04Z" stroke="#dfecf7"/><path d="M144.73 406.91L158.11 418.40L171.48 406.91L163.68 395.41L158.11 390.99L152.53 395.41ZM97.76 372.42L104.62 375.29L111.48 372.42L104.62 367.63Z" stroke="#c1d9ed"/><path d="M147.71 406.91L158.11 415.85L168.51 406.91L158.11 396.85Z" stroke="#8fc2de"/><path d="M150.68 406.91L158.11 413.29L165.54 406.91L158.11 399.72Z" stroke="#57a0ce"/><path d="M153.65 406.91L158.11 410.74L162.56 406.91L158.11 402.59Z" stroke="#2d7dbb"/><path d="M156.62 406.91L158.11 408.18L159.59 406.91L158.11 405.47Z" stroke="#0c56a0"/></g></g>
<rect x="33.30" y="315.20" width="158.70" height="103.20" fill="none" stroke="#333" stroke-width="0.6"/>
<path d="M33.30 418.40v2.6M65.39 418.40v2.6M97.49 418.40v2.6M129.58 418.40v2.6M161.67 418.40v2.6M33.30 418.40h-2.6M33.30 405.78h-2.6M33.30 393.17h-2.6M33.30 380.55h-2.6M33.30 367.94h-2.6M33.30 355.32h-2.6M33.30 342.70h-2.6M33.30 330.09h-2.6M33.30 317.47h-2.6" stroke="#333" stroke-width="0.6" fill="none"/>
<text x="112.65" y="313.30" font-size="9.4" text-anchor="middle" textLength="83.69" lengthAdjust="spacingAndGlyphs" fill="#000">Western Ross Sea</text>
<text x="29.70" y="421.00" font-size="8.2" text-anchor="end" textLength="17.60" lengthAdjust="spacingAndGlyphs" fill="#000">−2.5</text>
<text x="29.70" y="408.38" font-size="8.2" text-anchor="end" textLength="17.60" lengthAdjust="spacingAndGlyphs" fill="#000">−2.0</text>
<text x="29.70" y="395.77" font-size="8.2" text-anchor="end" textLength="17.60" lengthAdjust="spacingAndGlyphs" fill="#000">−1.5</text>
<text x="29.70" y="383.15" font-size="8.2" text-anchor="end" textLength="17.60" lengthAdjust="spacingAndGlyphs" fill="#000">−1.0</text>
<text x="29.70" y="370.54" font-size="8.2" text-anchor="end" textLength="17.60" lengthAdjust="spacingAndGlyphs" fill="#000">−0.5</text>
<text x="29.70" y="357.92" font-size="8.2" text-anchor="end" textLength="11.53" lengthAdjust="spacingAndGlyphs" fill="#000">0.0</text>
<text x="29.70" y="345.30" font-size="8.2" text-anchor="end" textLength="11.53" lengthAdjust="spacingAndGlyphs" fill="#000">0.5</text>
<text x="29.70" y="332.69" font-size="8.2" text-anchor="end" textLength="11.53" lengthAdjust="spacingAndGlyphs" fill="#000">1.0</text>
<text x="29.70" y="320.07" font-size="8.2" text-anchor="end" textLength="11.53" lengthAdjust="spacingAndGlyphs" fill="#000">1.5</text>
<text x="0" y="0" font-size="9.4" text-anchor="middle" textLength="27.34" lengthAdjust="spacingAndGlyphs" fill="#000" transform="translate(8.00 366.80) rotate(-90)">θ (°C)</text>
<text x="33.30" y="427.50" font-size="8.2" text-anchor="middle" textLength="16.14" lengthAdjust="spacingAndGlyphs" fill="#000">33.8</text>
<text x="65.39" y="427.50" font-size="8.2" text-anchor="middle" textLength="16.14" lengthAdjust="spacingAndGlyphs" fill="#000">34.0</text>
<text x="97.49" y="427.50" font-size="8.2" text-anchor="middle" textLength="16.14" lengthAdjust="spacingAndGlyphs" fill="#000">34.2</text>
<text x="129.58" y="427.50" font-size="8.2" text-anchor="middle" textLength="16.14" lengthAdjust="spacingAndGlyphs" fill="#000">34.4</text>
<text x="161.67" y="427.50" font-size="8.2" text-anchor="middle" textLength="16.14" lengthAdjust="spacingAndGlyphs" fill="#000">34.6</text>
<text x="112.65" y="438.80" font-size="9.4" text-anchor="middle" textLength="33.11" lengthAdjust="spacingAndGlyphs" fill="#000">S (psu)</text>
<g clip-path="url(#clip7)"><g fill="none" stroke-width="0.6" stroke-linejoin="round"><path d="M644.21 419.20L650.15 415.39L662.02 407.76L650.15 400.13L642.73 396.32L632.34 389.65L614.53 387.74L596.73 388.70L578.92 390.60L570.02 396.32L561.11 400.13L543.31 405.85L540.34 407.76L543.31 409.67L558.15 419.20M685.76 345.48L677.85 350.57L667.96 356.92L660.04 362.00L667.96 367.09L677.85 373.44L685.76 378.53M553.20 316.25L561.11 321.33L571.01 327.69L578.92 332.77L596.73 332.77L604.64 327.69L614.53 321.33L622.45 316.25" stroke="#fee1d4"/><path d="M632.34 419.20L632.34 419.20L650.15 407.76L632.34 397.23L625.66 396.32L614.53 393.46L596.73 396.32L596.73 396.32L578.92 398.23L561.11 407.76L578.92 417.97L585.60 419.20" stroke="#fdc5ae"/><path d="M568.24 407.76L578.92 413.89L596.73 418.06L614.53 419.20L632.34 415.93L645.06 407.76L632.34 400.24L614.53 397.04L596.73 398.40L578.92 402.04Z" stroke="#fca689"/><path d="M575.36 407.76L578.92 409.80L596.73 415.77L614.53 417.67L632.34 412.66L639.97 407.76L632.34 403.25L614.53 398.47L596.73 400.48L578.92 405.85Z" stroke="#fc8666"/><path d="M581.89 407.76L596.73 413.48L614.53 416.15L632.34 409.40L634.89 407.76L632.34 406.26L614.53 399.90L596.73 402.56Z" stroke="#fa6648"/><path d="M587.82 407.76L596.73 411.19L614.53 414.62L630.56 407.76L614.53 401.33L596.73 404.64Z" stroke="#f14130"/><path d="M593.76 407.76L596.73 408.90L614.53 413.10L627.00 407.76L614.53 402.76L596.73 406.72Z" stroke="#d82422"/><path d="M599.70 407.76L614.53 411.57L623.44 407.76L614.53 404.19Z" stroke="#bb141a"/><path d="M605.63 407.76L614.53 410.05L619.88 407.76L614.53 405.62Z" stroke="#980c13"/><path d="M611.57 407.76L614.53 408.52L616.32 407.76L614.53 407.05Z" stroke="#67000d"/></g><g fill="none" stroke-width="0.6" stroke-linejoin="round"><path d="M605.63 419.20L614.53 414.43L624.92 407.76L632.34 399.59L637.43 396.32L640.26 384.88L650.15 375.35L653.12 373.44L659.05 362.00L655.24 350.57L650.15 347.30L632.34 344.85L623.44 350.57L617.23 362.00L614.53 366.40L603.58 373.44L596.73 379.16L587.82 384.88L578.92 387.17L561.11 390.60L552.21 396.32L546.87 407.76L554.44 419.20" stroke="#dfecf7"/><path d="M587.82 419.20L596.73 416.34L611.57 407.76L614.53 399.18L616.51 396.32L627.89 384.88L632.34 377.26L636.79 373.44L646.28 362.00L632.34 353.05L622.63 362.00L621.66 373.44L614.53 374.59L600.60 384.88L596.73 388.70L578.92 391.75L567.05 396.32L561.11 400.13L553.99 407.76L561.11 414.49L571.50 419.20" stroke="#cddff1"/><path d="M561.11 407.76L578.92 418.49L596.73 410.62L601.67 407.76L596.73 396.32L578.92 396.32ZM608.34 384.88L614.53 390.27L620.47 384.88L614.53 380.31ZM628.03 362.00L632.34 368.11L638.54 362.00L632.34 358.03Z" stroke="#b2d2e8"/><path d="M563.49 407.76L578.92 417.06L595.46 407.76L578.92 397.85Z" stroke="#8fc2de"/><path d="M565.86 407.76L578.92 415.63L592.91 407.76L578.92 399.37Z" stroke="#68acd5"/><path d="M568.24 407.76L578.92 414.20L590.37 407.76L578.92 400.90Z" stroke="#4896c8"/><path d="M570.61 407.76L578.92 412.77L587.82 407.76L578.92 402.42Z" stroke="#2d7dbb"/><path d="M572.99 407.76L578.92 411.34L585.28 407.76L578.92 403.95Z" stroke="#1663aa"/><path d="M575.36 407.76L578.92 409.91L582.74 407.76L578.92 405.47Z" stroke="#084a91"/><path d="M577.73 407.76L578.92 408.48L580.19 407.76L578.92 407.00Z" stroke="#08306b"/></g></g>
<rect x="525.50" y="316.50" width="158.50" height="102.70" fill="none" stroke="#333" stroke-width="0.6"/>
<path d="M525.50 419.20v2.6M557.55 419.20v2.6M589.61 419.20v2.6M621.66 419.20v2.6M653.71 419.20v2.6M525.50 419.20h-2.6M525.50 406.64h-2.6M525.50 394.09h-2.6M525.50 381.53h-2.6M525.50 368.98h-2.6M525.50 356.42h-2.6M525.50 343.87h-2.6M525.50 331.31h-2.6M525.50 318.76h-2.6" stroke="#333" stroke-width="0.6" fill="none"/>
<text x="604.75" y="314.60" font-size="9.4" text-anchor="middle" textLength="85.30" lengthAdjust="spacingAndGlyphs" fill="#000">Eastern Prydz Bay</text>
<text x="521.90" y="421.80" font-size="8.2" text-anchor="end" textLength="17.60" lengthAdjust="spacingAndGlyphs" fill="#000">−2.5</text>
<text x="521.90" y="409.24" font-size="8.2" text-anchor="end" textLength="17.60" lengthAdjust="spacingAndGlyphs" fill="#000">−2.0</text>
<text x="521.90" y="396.69" font-size="8.2" text-anchor="end" textLength="17.60" lengthAdjust="spacingAndGlyphs" fill="#000">−1.5</text>
<text x="521.90" y="384.13" font-size="8.2" text-anchor="end" textLength="17.60" lengthAdjust="spacingAndGlyphs" fill="#000">−1.0</text>
<text x="521.90" y="371.58" font-size="8.2" text-anchor="end" textLength="17.60" lengthAdjust="spacingAndGlyphs" fill="#000">−0.5</text>
<text x="521.90" y="359.02" font-size="8.2" text-anchor="end" textLength="11.53" lengthAdjust="spacingAndGlyphs" fill="#000">0.0</text>
<text x="521.90" y="346.47" font-size="8.2" text-anchor="end" textLength="11.53" lengthAdjust="spacingAndGlyphs" fill="#000">0.5</text>
<text x="521.90" y="333.91" font-size="8.2" text-anchor="end" textLength="11.53" lengthAdjust="spacingAndGlyphs" fill="#000">1.0</text>
<text x="521.90" y="321.36" font-size="8.2" text-anchor="end" textLength="11.53" lengthAdjust="spacingAndGlyphs" fill="#000">1.5</text>
<text x="0" y="0" font-size="9.4" text-anchor="middle" textLength="27.34" lengthAdjust="spacingAndGlyphs" fill="#000" transform="translate(500.20 367.85) rotate(-90)">θ (°C)</text>
<g clip-path="url(#clip8)"><g fill="none" stroke-width="0.6" stroke-linejoin="round"><path d="M327.79 553.80L329.58 542.82L317.79 535.27L310.64 531.84L300.63 525.43L283.48 527.72L266.32 531.84L266.32 531.84L249.17 540.99L246.31 542.82L249.17 544.65L261.42 553.80M352.10 483.02L334.94 483.02L327.32 487.91L334.94 492.79L344.47 498.89L344.47 509.87L352.10 514.75M197.70 470.82L214.86 470.82L232.01 470.82L249.17 470.82L266.32 470.82L273.95 465.94L283.48 459.84L291.10 454.96" stroke="#fee1d4"/><path d="M315.21 553.80L317.79 545.56L318.86 542.82L317.79 542.13L300.63 532.32L283.48 534.24L266.32 541.82L264.61 542.82L266.32 544.04L281.57 553.80" stroke="#fcbda4"/><path d="M306.64 553.80L315.38 542.82L300.63 533.93L283.48 537.67L272.75 542.82L283.48 549.68L293.13 553.80" stroke="#fc9373"/><path d="M279.90 542.82L283.48 545.11L300.63 553.11L312.69 542.82L300.63 535.55L283.48 541.10Z" stroke="#fb6b4b"/><path d="M285.62 542.82L300.63 550.83L310.01 542.82L300.63 537.16Z" stroke="#ef3c2c"/><path d="M289.91 542.82L300.63 548.54L307.33 542.82L300.63 538.78Z" stroke="#cb181d"/><path d="M294.20 542.82L300.63 546.25L304.65 542.82L300.63 540.40Z" stroke="#a50f15"/><path d="M298.49 542.82L300.63 543.96L301.97 542.82L300.63 542.01Z" stroke="#67000d"/></g><g fill="none" stroke-width="0.6" stroke-linejoin="round"><path d="M307.07 553.80L317.79 544.65L320.65 542.82L334.94 536.72L342.57 531.84L352.10 525.73M352.10 504.99L334.94 504.99L327.32 509.87L317.79 520.85L317.79 520.85L317.79 520.85L300.63 516.73L294.20 520.85L283.48 530.00L280.62 531.84L280.62 542.82L283.48 544.65L294.20 553.80" stroke="#b7d4ea"/><path d="M286.34 542.82L300.63 552.32L314.93 542.82L314.93 531.84L300.63 522.33L286.34 531.84Z" stroke="#84bcdb"/><path d="M289.51 542.82L300.63 550.21L311.75 542.82L311.75 531.84L300.63 524.44L289.51 531.84Z" stroke="#519ccc"/><path d="M292.69 542.82L300.63 548.10L308.57 542.82L308.57 531.84L300.63 526.56L292.69 531.84Z" stroke="#2979b9"/><path d="M295.87 542.82L300.63 545.99L305.40 542.82L305.40 531.84L300.63 528.67L295.87 531.84Z" stroke="#0a549e"/><path d="M299.04 542.82L300.63 543.87L302.22 542.82L302.22 531.84L300.63 530.78L299.04 531.84Z" stroke="#08306b"/></g></g>
<rect x="197.70" y="455.20" width="152.70" height="98.60" fill="none" stroke="#333" stroke-width="0.6"/>
<path d="M197.70 553.80v2.6M228.58 553.80v2.6M259.46 553.80v2.6M290.34 553.80v2.6M321.22 553.80v2.6M197.70 553.80h-2.6M197.70 541.75h-2.6M197.70 529.69h-2.6M197.70 517.64h-2.6M197.70 505.58h-2.6M197.70 493.53h-2.6M197.70 481.48h-2.6M197.70 469.42h-2.6M197.70 457.37h-2.6" stroke="#333" stroke-width="0.6" fill="none"/>
<text x="274.05" y="453.30" font-size="9.4" text-anchor="middle" textLength="58.67" lengthAdjust="spacingAndGlyphs" fill="#000">Adelie Coast</text>
<text x="194.10" y="556.40" font-size="8.2" text-anchor="end" textLength="17.60" lengthAdjust="spacingAndGlyphs" fill="#000">−2.5</text>
<text x="194.10" y="544.35" font-size="8.2" text-anchor="end" textLength="17.60" lengthAdjust="spacingAndGlyphs" fill="#000">−2.0</text>
<text x="194.10" y="532.29" font-size="8.2" text-anchor="end" textLength="17.60" lengthAdjust="spacingAndGlyphs" fill="#000">−1.5</text>
<text x="194.10" y="520.24" font-size="8.2" text-anchor="end" textLength="17.60" lengthAdjust="spacingAndGlyphs" fill="#000">−1.0</text>
<text x="194.10" y="508.18" font-size="8.2" text-anchor="end" textLength="17.60" lengthAdjust="spacingAndGlyphs" fill="#000">−0.5</text>
<text x="194.10" y="496.13" font-size="8.2" text-anchor="end" textLength="11.53" lengthAdjust="spacingAndGlyphs" fill="#000">0.0</text>
<text x="194.10" y="484.08" font-size="8.2" text-anchor="end" textLength="11.53" lengthAdjust="spacingAndGlyphs" fill="#000">0.5</text>
<text x="194.10" y="472.02" font-size="8.2" text-anchor="end" textLength="11.53" lengthAdjust="spacingAndGlyphs" fill="#000">1.0</text>
<text x="194.10" y="459.97" font-size="8.2" text-anchor="end" textLength="11.53" lengthAdjust="spacingAndGlyphs" fill="#000">1.5</text>
<text x="0" y="0" font-size="9.4" text-anchor="middle" textLength="27.34" lengthAdjust="spacingAndGlyphs" fill="#000" transform="translate(172.40 504.50) rotate(-90)">θ (°C)</text>
<text x="197.70" y="562.90" font-size="8.2" text-anchor="middle" textLength="16.14" lengthAdjust="spacingAndGlyphs" fill="#000">33.8</text>
<text x="228.58" y="562.90" font-size="8.2" text-anchor="middle" textLength="16.14" lengthAdjust="spacingAndGlyphs" fill="#000">34.0</text>
<text x="259.46" y="562.90" font-size="8.2" text-anchor="middle" textLength="16.14" lengthAdjust="spacingAndGlyphs" fill="#000">34.2</text>
<text x="290.34" y="562.90" font-size="8.2" text-anchor="middle" textLength="16.14" lengthAdjust="spacingAndGlyphs" fill="#000">34.4</text>
<text x="321.22" y="562.90" font-size="8.2" text-anchor="middle" textLength="16.14" lengthAdjust="spacingAndGlyphs" fill="#000">34.6</text>
<text x="274.05" y="574.20" font-size="9.4" text-anchor="middle" textLength="33.11" lengthAdjust="spacingAndGlyphs" fill="#000">S (psu)</text>
<g clip-path="url(#clip9)"><g fill="none" stroke-width="0.6" stroke-linejoin="round"><path d="M467.62 555.20L473.34 544.22L471.19 533.24L464.76 529.12L452.52 522.25L447.62 519.12L430.48 520.42L427.62 522.25L413.33 525.00L396.19 527.74L387.62 533.24L379.04 536.90L367.61 544.22L374.15 555.20M516.20 539.34L508.58 544.22L499.05 550.32L491.43 555.20M491.43 456.36L499.05 461.24L508.58 467.34L516.20 472.22" stroke="#fee1d4"/><path d="M453.74 555.20L462.62 544.22L454.76 533.24L447.62 529.01L430.48 526.37L413.33 530.49L404.76 533.24L396.19 534.61L379.04 544.22L389.59 555.20" stroke="#fdc5ae"/><path d="M439.05 555.20L447.62 553.37L458.34 544.22L447.62 535.07L439.05 533.24L430.48 530.95L421.90 533.24L413.33 534.02L396.19 537.35L383.94 544.22L396.19 553.37L404.76 555.20" stroke="#fca689"/><path d="M388.84 544.22L396.19 549.71L413.33 554.28L430.48 554.42L447.62 549.71L454.05 544.22L447.62 538.73L430.48 534.02L413.33 535.59L396.19 540.10Z" stroke="#fc8666"/><path d="M393.74 544.22L396.19 546.05L413.33 552.45L430.48 552.85L447.62 546.05L449.76 544.22L447.62 542.39L430.48 535.59L413.33 537.16L396.19 542.84Z" stroke="#fa6648"/><path d="M398.33 544.22L413.33 550.62L430.48 551.28L445.91 544.22L430.48 537.16L413.33 538.73Z" stroke="#f14130"/><path d="M402.62 544.22L413.33 548.79L430.48 549.71L442.48 544.22L430.48 538.73L413.33 540.30Z" stroke="#d82422"/><path d="M406.90 544.22L413.33 546.96L430.48 548.14L439.05 544.22L430.48 540.30L413.33 541.86Z" stroke="#bb141a"/><path d="M411.19 544.22L413.33 545.13L430.48 546.57L435.62 544.22L430.48 541.86L413.33 543.43Z" stroke="#980c13"/><path d="M421.90 544.22L430.48 545.00L432.19 544.22L430.48 543.43Z" stroke="#67000d"/></g><g fill="none" stroke-width="0.6" stroke-linejoin="round"><path d="M407.62 555.20L413.33 553.63L428.03 544.22L430.48 538.73L439.05 533.24L439.83 522.25L447.62 518.82L464.76 518.33L475.79 511.27L481.91 507.61L493.34 500.29L499.05 496.06L509.60 489.31L507.63 478.32L507.63 467.34L509.60 456.36M516.20 550.32L499.05 550.32L491.43 555.20M471.36 456.36L473.34 467.34L464.76 473.44L457.15 478.32L454.76 489.31L447.62 493.53L437.07 500.29L430.48 507.15L424.05 511.27L421.13 522.25L413.33 525.30L396.19 525.91L379.04 529.12L372.62 533.24L364.76 544.22L372.62 555.20" stroke="#dfecf7"/><path d="M370.47 544.22L379.04 551.71L396.19 555.20L413.33 550.49L423.13 544.22L419.76 533.24L413.33 531.40L396.19 533.24L396.19 533.24L379.04 536.73ZM445.48 511.27L447.62 511.96L456.19 511.27L464.76 510.17L481.91 500.29L481.91 500.29L497.49 489.31L481.91 479.32L467.00 489.31L464.76 492.05L450.74 500.29L447.62 507.61Z" stroke="#cddff1"/><path d="M376.19 544.22L379.04 546.71L396.19 553.91L413.33 547.36L418.23 544.22L413.33 537.76L396.19 534.53L379.04 541.72ZM474.46 489.31L481.91 494.80L489.70 489.31L481.91 484.31Z" stroke="#b2d2e8"/><path d="M380.27 544.22L396.19 552.62L413.33 544.22L396.19 535.82Z" stroke="#8fc2de"/><path d="M382.72 544.22L396.19 551.32L410.69 544.22L396.19 537.11Z" stroke="#68acd5"/><path d="M385.17 544.22L396.19 550.03L408.06 544.22L396.19 538.40Z" stroke="#4896c8"/><path d="M387.62 544.22L396.19 548.74L405.42 544.22L396.19 539.70Z" stroke="#2d7dbb"/><path d="M390.07 544.22L396.19 547.45L402.78 544.22L396.19 540.99Z" stroke="#1663aa"/><path d="M392.51 544.22L396.19 546.16L400.14 544.22L396.19 542.28Z" stroke="#084a91"/><path d="M394.96 544.22L396.19 544.86L397.51 544.22L396.19 543.57Z" stroke="#08306b"/></g></g>
<rect x="361.90" y="456.60" width="152.60" height="98.60" fill="none" stroke="#333" stroke-width="0.6"/>
<path d="M361.90 555.20v2.6M392.76 555.20v2.6M423.62 555.20v2.6M454.48 555.20v2.6M485.34 555.20v2.6M361.90 555.20h-2.6M361.90 543.15h-2.6M361.90 531.09h-2.6M361.90 519.04h-2.6M361.90 506.98h-2.6M361.90 494.93h-2.6M361.90 482.88h-2.6M361.90 470.82h-2.6M361.90 458.77h-2.6" stroke="#333" stroke-width="0.6" fill="none"/>
<text x="438.20" y="454.70" font-size="9.4" text-anchor="middle" textLength="52.79" lengthAdjust="spacingAndGlyphs" fill="#000">Knox Coast</text>
<text x="361.90" y="564.30" font-size="8.2" text-anchor="middle" textLength="16.14" lengthAdjust="spacingAndGlyphs" fill="#000">33.8</text>
<text x="392.76" y="564.30" font-size="8.2" text-anchor="middle" textLength="16.14" lengthAdjust="spacingAndGlyphs" fill="#000">34.0</text>
<text x="423.62" y="564.30" font-size="8.2" text-anchor="middle" textLength="16.14" lengthAdjust="spacingAndGlyphs" fill="#000">34.2</text>
<text x="454.48" y="564.30" font-size="8.2" text-anchor="middle" textLength="16.14" lengthAdjust="spacingAndGlyphs" fill="#000">34.4</text>
<text x="485.34" y="564.30" font-size="8.2" text-anchor="middle" textLength="16.14" lengthAdjust="spacingAndGlyphs" fill="#000">34.6</text>
<text x="438.20" y="575.60" font-size="9.4" text-anchor="middle" textLength="33.11" lengthAdjust="spacingAndGlyphs" fill="#000">S (psu)</text>
<g clip-path="url(#clip10)"><g fill="none" stroke-width="0.6" stroke-linejoin="round"><path d="M617.50 555.50L631.23 544.06L614.53 532.77L596.73 532.77L580.03 544.06L593.76 555.50M660.04 521.18L667.96 526.27L675.87 521.18L667.96 516.10ZM685.76 527.54L677.85 532.62L685.76 537.71M553.20 509.74L561.11 514.83L578.92 514.83L596.73 514.83L604.64 509.74L596.73 504.66L578.92 504.66L561.11 504.66ZM535.39 498.30L543.31 503.39L551.22 498.30L543.31 493.22ZM606.62 498.30L614.53 503.39L622.45 498.30L614.53 493.22ZM685.76 504.66L677.85 509.74L685.76 514.83M624.43 486.87L632.34 491.95L640.26 486.87L632.34 481.78ZM642.23 475.43L650.15 480.51L658.06 475.43L650.15 470.34Z" stroke="#fdcab5"/><path d="M582.26 544.06L596.73 554.11L614.53 554.11L629.00 544.06L614.53 534.28L596.73 534.28Z" stroke="#fca689"/><path d="M584.49 544.06L596.73 552.56L614.53 552.56L626.78 544.06L614.53 535.78L596.73 535.78Z" stroke="#fc8161"/><path d="M586.71 544.06L596.73 551.02L614.53 551.02L624.55 544.06L614.53 537.29L596.73 537.29Z" stroke="#f75b40"/><path d="M588.94 544.06L596.73 549.47L614.53 549.47L622.33 544.06L614.53 538.79L596.73 538.79Z" stroke="#e53228"/><path d="M591.16 544.06L596.73 547.93L614.53 547.93L620.10 544.06L614.53 540.30L596.73 540.30Z" stroke="#c4161c"/><path d="M593.39 544.06L596.73 546.38L614.53 546.38L617.87 544.06L614.53 541.80L596.73 541.80Z" stroke="#9f0e14"/><path d="M595.62 544.06L596.73 544.83L614.53 544.83L615.65 544.06L614.53 543.31L596.73 543.31Z" stroke="#67000d"/></g><g fill="none" stroke-width="0.6" stroke-linejoin="round"><path d="M581.89 555.50L595.36 544.06L578.92 532.81L561.11 532.77L544.42 544.06L558.15 555.50" stroke="#d0e1f2"/><path d="M546.65 544.06L561.11 554.11L578.92 553.76L592.62 544.06L578.92 534.68L561.11 534.28Z" stroke="#b2d2e8"/><path d="M548.87 544.06L561.11 552.56L578.92 551.82L589.88 544.06L578.92 536.56L561.11 535.78Z" stroke="#89bedc"/><path d="M551.10 544.06L561.11 551.02L578.92 549.88L587.14 544.06L578.92 538.44L561.11 537.29Z" stroke="#5da5d1"/><path d="M553.32 544.06L561.11 549.47L578.92 547.94L584.40 544.06L578.92 540.31L561.11 538.79Z" stroke="#3989c1"/><path d="M555.55 544.06L561.11 547.93L578.92 546.00L581.66 544.06L578.92 542.19L561.11 540.30Z" stroke="#1c6bb0"/><path d="M557.78 544.06L561.11 546.38L578.92 544.06L561.11 541.80Z" stroke="#084e98"/><path d="M560.00 544.06L561.11 544.83L567.05 544.06L561.11 543.31Z" stroke="#08306b"/></g></g>
<rect x="525.50" y="452.80" width="158.50" height="102.70" fill="none" stroke="#333" stroke-width="0.6"/>
<path d="M525.50 555.50v2.6M557.55 555.50v2.6M589.61 555.50v2.6M621.66 555.50v2.6M653.71 555.50v2.6M525.50 555.50h-2.6M525.50 542.94h-2.6M525.50 530.39h-2.6M525.50 517.83h-2.6M525.50 505.28h-2.6M525.50 492.72h-2.6M525.50 480.17h-2.6M525.50 467.61h-2.6M525.50 455.06h-2.6" stroke="#333" stroke-width="0.6" fill="none"/>
<text x="604.75" y="450.90" font-size="9.4" text-anchor="middle" textLength="97.17" lengthAdjust="spacingAndGlyphs" fill="#000">Leopold/Astrid Coast</text>
<text x="525.50" y="564.60" font-size="8.2" text-anchor="middle" textLength="16.14" lengthAdjust="spacingAndGlyphs" fill="#000">33.8</text>
<text x="557.55" y="564.60" font-size="8.2" text-anchor="middle" textLength="16.14" lengthAdjust="spacingAndGlyphs" fill="#000">34.0</text>
<text x="589.61" y="564.60" font-size="8.2" text-anchor="middle" textLength="16.14" lengthAdjust="spacingAndGlyphs" fill="#000">34.2</text>
<text x="621.66" y="564.60" font-size="8.2" text-anchor="middle" textLength="16.14" lengthAdjust="spacingAndGlyphs" fill="#000">34.4</text>
<text x="653.71" y="564.60" font-size="8.2" text-anchor="middle" textLength="16.14" lengthAdjust="spacingAndGlyphs" fill="#000">34.6</text>
<text x="604.75" y="575.90" font-size="9.4" text-anchor="middle" textLength="33.11" lengthAdjust="spacingAndGlyphs" fill="#000">S (psu)</text>
<g clip-path="url(#mapclip)">
<path d="M478.60 222.13L478.42 221.84L477.91 221.05L477.39 220.25L476.86 219.46L476.33 218.68L475.80 217.89L475.26 217.11L474.72 216.34L474.17 215.56L473.62 214.79L473.06 214.03L472.50 213.26L471.93 212.50L471.36 211.75L470.78 211.00L470.20 210.25L469.61 209.50L469.02 208.76L468.43 208.02L467.83 207.29L467.23 206.56L466.62 205.83L466.01 205.10L465.39 204.38L464.77 203.67L464.14 202.96L463.51 202.25L462.88 201.54L462.24 200.84L461.60 200.15L460.95 199.45L460.30 198.77L459.64 198.08L458.98 197.40L458.32 196.72L457.65 196.05L456.98 195.38L456.30 194.72L455.62 194.06L454.93 193.40L454.25 192.75L453.55 192.10L452.86 191.46L452.16 190.82L451.45 190.19L450.74 189.56L450.03 188.93L449.32 188.31L448.60 187.69L447.87 187.08L447.14 186.47L446.41 185.87L445.68 185.27L444.94 184.68L444.20 184.09L443.45 183.50L442.70 182.92L441.95 182.34L441.20 181.77L440.44 181.20L439.67 180.64L438.91 180.08L438.14 179.53L437.36 178.98L436.59 178.44L435.81 177.90L435.02 177.37L434.24 176.84L433.45 176.31L432.65 175.79L432.04 175.40L264.76 175.40L264.15 175.79L263.35 176.31L262.56 176.84L261.78 177.37L260.99 177.90L260.21 178.44L259.44 178.98L258.66 179.53L257.89 180.08L257.13 180.64L256.36 181.20L255.60 181.77L254.85 182.34L254.10 182.92L253.35 183.50L252.60 184.09L251.86 184.68L251.12 185.27L250.39 185.87L249.66 186.47L248.93 187.08L248.20 187.69L247.48 188.31L246.77 188.93L246.06 189.56L245.35 190.19L244.64 190.82L243.94 191.46L243.25 192.10L242.55 192.75L241.87 193.40L241.18 194.06L240.50 194.72L239.82 195.38L239.15 196.05L238.48 196.72L237.82 197.40L237.16 198.08L236.50 198.77L235.85 199.45L235.20 200.15L234.56 200.84L233.92 201.54L233.29 202.25L232.66 202.96L232.03 203.67L231.41 204.38L230.79 205.10L230.18 205.83L229.57 206.56L228.97 207.29L228.37 208.02L227.78 208.76L227.19 209.50L226.60 210.25L226.02 211.00L225.44 211.75L224.87 212.50L224.30 213.26L223.74 214.03L223.18 214.79L222.63 215.56L222.08 216.34L221.54 217.11L221.00 217.89L220.47 218.68L219.94 219.46L219.41 220.25L218.89 221.05L218.38 221.84L217.87 222.64L217.37 223.45L216.87 224.25L216.80 224.36L216.80 386.24L216.87 386.35L217.37 387.15L217.87 387.96L218.38 388.76L218.89 389.55L219.41 390.35L219.94 391.14L220.47 391.92L221.00 392.71L221.54 393.49L222.08 394.26L222.63 395.04L223.18 395.81L223.74 396.57L224.30 397.34L224.87 398.10L225.44 398.85L226.02 399.60L226.60 400.35L227.19 401.10L227.78 401.84L228.37 402.58L228.97 403.31L229.57 404.04L230.18 404.77L230.79 405.50L231.41 406.22L232.03 406.93L232.66 407.64L233.29 408.35L233.92 409.06L234.56 409.76L235.20 410.45L235.85 411.15L236.50 411.83L237.16 412.52L237.82 413.20L238.48 413.88L239.15 414.55L239.82 415.22L240.50 415.88L241.18 416.54L241.87 417.20L242.55 417.85L243.25 418.50L243.94 419.14L244.64 419.78L245.35 420.41L246.06 421.04L246.77 421.67L247.48 422.29L248.20 422.91L248.93 423.52L249.66 424.13L250.39 424.73L251.12 425.33L251.86 425.92L252.60 426.51L253.35 427.10L254.10 427.68L254.85 428.26L255.60 428.83L256.36 429.40L257.13 429.96L257.89 430.52L258.66 431.07L259.44 431.62L260.21 432.16L260.99 432.70L261.78 433.23L262.56 433.76L263.35 434.29L264.15 434.81L264.94 435.32L265.74 435.83L266.55 436.33L267.35 436.83L267.95 437.20L428.85 437.20L429.45 436.83L430.25 436.33L431.06 435.83L431.86 435.32L432.65 434.81L433.45 434.29L434.24 433.76L435.02 433.23L435.81 432.70L436.59 432.16L437.36 431.62L438.14 431.07L438.91 430.52L439.67 429.96L440.44 429.40L441.20 428.83L441.95 428.26L442.70 427.68L443.45 427.10L444.20 426.51L444.94 425.92L445.68 425.33L446.41 424.73L447.14 424.13L447.87 423.52L448.60 422.91L449.32 422.29L450.03 421.67L450.74 421.04L451.45 420.41L452.16 419.78L452.86 419.14L453.55 418.50L454.25 417.85L454.93 417.20L455.62 416.54L456.30 415.88L456.98 415.22L457.65 414.55L458.32 413.88L458.98 413.20L459.64 412.52L460.30 411.83L460.95 411.15L461.60 410.45L462.24 409.76L462.88 409.06L463.51 408.35L464.14 407.64L464.77 406.93L465.39 406.22L466.01 405.50L466.62 404.77L467.23 404.04L467.83 403.31L468.43 402.58L469.02 401.84L469.61 401.10L470.20 400.35L470.78 399.60L471.36 398.85L471.93 398.10L472.50 397.34L473.06 396.57L473.62 395.81L474.17 395.04L474.72 394.26L475.26 393.49L475.80 392.71L476.33 391.92L476.86 391.14L477.39 390.35L477.91 389.55L478.42 388.76L478.60 388.47Z" fill="#87ceeb"/>
<path d="M253.37 322.06L252.92 319.29L252.55 316.50L252.27 313.71L252.06 310.91L251.94 308.11L251.90 305.30L251.94 302.49L252.06 299.69L252.27 296.89L252.55 294.10L252.92 291.31L253.37 288.54L253.89 285.79L254.50 283.05L255.19 280.32L255.95 277.62L256.80 274.95L257.72 272.30L258.72 269.67L259.79 267.08L260.94 264.52L262.16 261.99L263.46 259.50L264.83 257.05L289.51 271.30L288.55 273.03L287.63 274.78L286.77 276.56L285.96 278.37L285.20 280.19L284.50 282.04L283.85 283.91L283.26 285.80L282.72 287.70L282.23 289.62L281.80 291.55L281.43 293.49L281.12 295.44L280.86 297.41L280.66 299.37L280.52 301.35L280.43 303.32L280.40 305.30L280.43 307.28L280.52 309.25L280.66 311.23L280.86 313.19L281.12 315.16L281.43 317.11Z" fill="#67000d"/>
<path d="M272.19 349.30L271.56 348.19L270.94 347.06L270.34 345.93L269.76 344.79L269.19 343.65L268.64 342.49L268.11 341.33L267.60 340.16L267.10 338.98L266.62 337.79L266.15 336.60L265.71 335.40L265.28 334.19L264.87 332.98L264.47 331.76L264.10 330.54L263.74 329.31L263.40 328.08L263.08 326.84L262.77 325.59L262.49 324.35L262.22 323.10L261.97 321.84L261.74 320.58L299.16 313.98L299.29 314.70L299.43 315.41L299.59 316.12L299.75 316.83L299.92 317.54L300.10 318.24L300.30 318.94L300.50 319.64L300.71 320.34L300.94 321.03L301.17 321.72L301.42 322.40L301.67 323.08L301.93 323.76L302.21 324.43L302.49 325.10L302.78 325.77L303.08 326.43L303.40 327.09L303.72 327.74L304.05 328.39L304.39 329.03L304.74 329.67L305.10 330.30Z" fill="#67000d"/>
<path d="M291.16 272.25L292.14 270.60L293.17 268.98L294.25 267.39L295.38 265.83L296.55 264.30L297.76 262.81L299.02 261.36L300.32 259.94L301.66 258.56L303.04 257.22L304.46 255.92L305.91 254.66L307.40 253.45L308.93 252.28L310.49 251.15L312.08 250.07L313.70 249.04L315.35 248.06L317.03 247.12L318.73 246.23L320.46 245.39L322.22 244.61L324.00 243.87L325.79 243.19L348.40 305.30Z" fill="#08306b"/>
<path d="M310.78 201.93L312.29 201.40L313.80 200.88L315.32 200.39L316.85 199.92L318.39 199.47L319.93 199.05L321.48 198.65L323.03 198.27L324.59 197.91L326.16 197.57L327.73 197.26L329.30 196.97L330.88 196.70L332.46 196.46L334.04 196.24L335.63 196.04L337.22 195.87L338.81 195.72L340.41 195.59L342.00 195.49L343.60 195.40L345.20 195.35L346.80 195.31L348.40 195.30L348.40 305.30Z" fill="#fde725"/>
<path d="M443.66 250.30L444.53 251.83L445.37 253.38L446.19 254.93L446.99 256.50L447.75 258.09L448.50 259.68L449.21 261.29L449.90 262.91L450.57 264.54L451.21 266.18L451.82 267.83L452.41 269.49L452.97 271.16L453.50 272.83L454.01 274.52L454.48 276.21L454.94 277.91L455.36 279.62L455.76 281.34L456.13 283.06L456.47 284.78L456.78 286.51L457.07 288.25L457.33 289.99L348.40 305.30Z" fill="#08306b"/>
<path d="M457.33 289.99L457.38 290.34L457.43 290.69L457.47 291.04L457.52 291.39L457.56 291.74L457.60 292.08L457.65 292.43L457.69 292.78L457.73 293.13L457.76 293.48L457.80 293.83L457.84 294.18L457.87 294.53L457.91 294.88L457.94 295.23L457.97 295.59L458.00 295.94L458.03 296.29L458.06 296.64L458.09 296.99L458.11 297.34L458.14 297.69L458.16 298.04L458.18 298.39L348.40 305.30Z" fill="#fde725"/>
<path d="M477.97 330.49L477.77 331.52L477.56 332.56L477.33 333.59L477.10 334.62L476.86 335.65L476.62 336.67L476.36 337.70L476.10 338.72L475.83 339.74L475.55 340.76L475.26 341.78L474.96 342.79L474.66 343.80L474.35 344.81L474.03 345.82L473.70 346.82L473.36 347.82L473.02 348.82L472.67 349.81L472.31 350.81L471.94 351.80L471.56 352.78L471.18 353.77L470.79 354.75L348.40 305.30Z" fill="#fde725"/>
<path d="M441.74 398.64L441.06 399.31L440.37 399.99L439.68 400.65L438.98 401.31L438.28 401.97L437.58 402.62L436.87 403.27L436.15 403.91L435.43 404.54L434.71 405.17L433.98 405.80L433.25 406.42L432.51 407.03L431.77 407.64L431.02 408.24L430.27 408.84L429.52 409.44L428.76 410.02L427.99 410.60L427.22 411.18L426.45 411.75L425.68 412.32L424.90 412.87L424.11 413.43L348.40 305.30Z" fill="#08306b"/>
<path d="M387.55 373.11L386.06 373.95L384.55 374.75L383.03 375.53L381.49 376.26L379.94 376.97L378.36 377.64L376.78 378.28L375.18 378.88L373.57 379.44L371.95 379.98L370.31 380.47L368.67 380.93L367.01 381.36L365.35 381.74L363.68 382.10L362.00 382.41L360.31 382.69L358.62 382.93L356.92 383.13L355.22 383.30L353.52 383.43L351.82 383.53L350.11 383.58L348.40 383.60L348.40 353.90L349.46 353.89L350.52 353.85L351.58 353.80L352.64 353.72L353.69 353.61L354.74 353.48L355.79 353.33L356.84 353.16L357.88 352.97L358.92 352.75L359.95 352.51L360.98 352.24L362.00 351.96L363.01 351.65L364.02 351.32L365.02 350.97L366.01 350.60L367.00 350.20L367.97 349.78L368.94 349.35L369.90 348.89L370.84 348.41L371.78 347.91L372.70 347.39Z" fill="#08306b"/>
<path d="M347.86 218.50L340.57 219.55L334.74 221.78L331.63 223.38L326.32 229.01L326.06 230.46L327.69 233.70L327.02 236.24L324.46 240.59L323.72 242.69L320.79 244.16L320.14 244.93L317.43 255.69L316.84 262.22L315.14 263.51L302.48 268.87L290.50 271.40L278.74 265.27L263.66 258.63L260.58 258.85L259.63 259.49L259.32 260.26L259.40 261.08L262.45 265.71L263.34 268.39L264.84 279.38L266.02 282.84L266.72 283.51L269.51 284.63L273.57 285.16L274.80 285.65L274.87 287.47L276.35 290.50L276.73 293.58L274.98 296.23L273.71 299.81L272.61 310.24L272.73 316.26L275.09 319.78L275.88 320.32L279.93 319.84L281.45 318.85L282.19 319.59L284.17 326.47L286.15 331.66L287.37 338.15L290.57 344.62L299.22 355.01L315.01 359.70L321.78 356.83L326.84 358.60L327.80 358.65L334.42 354.88L339.18 355.72L346.79 360.49L352.98 361.00L359.66 360.42L360.51 359.44L361.24 356.33L362.05 356.08L364.36 359.16L365.25 359.58L366.11 359.49L367.18 366.40L366.16 373.19L364.21 377.19L362.50 381.87L362.80 382.96L365.85 386.51L378.09 389.69L383.69 390.39L389.40 390.40L394.10 388.25L410.78 386.10L416.47 383.26L422.07 381.22L426.95 377.79L429.14 373.15L429.20 369.77L436.69 358.33L438.12 354.12L440.58 351.02L445.92 345.37L447.44 336.83L450.08 331.42L452.29 324.01L453.00 318.23L452.30 312.59L452.29 305.59L451.59 300.09L450.78 296.47L448.53 291.98L444.32 286.73L437.39 282.09L436.74 280.37L438.62 278.53L438.67 277.70L438.07 275.50L438.78 272.95L440.36 270.08L440.50 269.30L437.62 257.80L436.27 253.46L434.68 250.33L435.49 249.42L435.70 248.64L434.88 243.78L431.42 239.57L425.61 237.31L419.81 236.54L414.31 234.45L408.54 233.02L405.00 233.81L402.32 231.21L400.63 228.64L399.84 228.09L394.07 228.78L387.69 228.05L377.70 223.05L371.99 218.95L366.45 219.29L359.50 218.40Z" fill="none" stroke="#9de33a" stroke-width="2.6" stroke-linejoin="round"/>
<path d="M276.50 287.00L276.50 284.50L274.00 283.50L270.00 283.00L267.50 282.00L266.50 279.00L266.00 275.00L265.50 271.50L265.00 268.00L264.00 265.00L262.50 262.50L261.00 260.50" fill="none" stroke="#9de33a" stroke-width="4.6" stroke-linejoin="round"/>
<path d="M242.00 238.00L244.50 236.00L248.00 237.50L251.00 240.50L253.50 245.00L255.50 250.00L256.50 254.00L257.00 258.00L257.50 262.00L258.00 266.00L259.00 270.00L257.00 271.50L254.50 268.00L253.00 263.00L251.50 258.50L249.00 254.50L246.00 251.00L243.50 246.00L242.30 242.00Z" fill="#9de33a"/>
<ellipse cx="244.8" cy="231.8" rx="1.8" ry="2.4" fill="#9de33a"/>
<ellipse cx="256.2" cy="214.0" rx="1.5" ry="1.2" fill="#9de33a"/>
<ellipse cx="245.5" cy="232.8" rx="0.6" ry="0.6" fill="#9de33a"/>
<circle cx="375.5" cy="401.5" r="1.0" fill="#9de33a"/>
<circle cx="378.5" cy="403.8" r="1.0" fill="#9de33a"/>
<circle cx="380.3" cy="405" r="0.8" fill="#9de33a"/>
<path d="M347.90 220.20L352.50 220.10L359.50 220.10L366.40 221.00L371.60 220.60L376.80 224.50L382.00 227.10L387.20 229.70L394.10 230.50L399.30 229.70L401.00 232.30L404.50 235.70L408.30 234.70L413.90 236.10L419.40 238.20L425.00 238.90L430.50 241.00L433.30 244.40L434.00 248.60L432.60 250.00L434.70 254.10L436.00 258.30L437.40 263.80L438.80 269.40L437.20 272.30L431.90 272.30L429.50 271.70L428.40 273.40L422.50 274.60L416.70 275.20L415.60 275.90L416.70 276.90L422.50 278.50L428.40 279.30L433.60 279.90L434.70 279.80L436.00 283.20L440.20 286.00L443.00 287.80L447.10 292.90L449.20 297.10L449.90 300.30L450.60 305.80L450.60 312.70L451.30 318.30L450.60 323.80L448.50 330.80L445.80 336.30L445.10 340.50L444.40 344.60L439.30 349.90L436.60 353.30L435.20 357.50L432.40 361.60L429.60 365.80L427.50 369.30L427.50 372.70L425.50 376.90L421.30 379.70L415.80 381.70L410.20 384.50L404.70 385.20L399.10 385.90L393.60 386.60L389.40 388.70L383.90 388.70L378.30 388.00L374.10 386.70L366.80 385.10L364.20 382.00L365.80 377.80L367.80 373.70L368.90 366.40L367.80 359.10L364.60 352.20L363.60 347.40L361.70 342.60L358.90 337.90L356.00 334.10L352.20 331.20L347.40 329.30L343.60 328.30L341.70 326.40L340.70 330.30L336.90 332.20L333.10 335.00L331.20 338.80L327.40 340.70L325.50 343.60L326.40 352.20L323.60 354.10L320.70 352.20L315.00 352.50L307.00 352.20L300.00 351.50L296.20 348.90L292.00 343.70L288.90 337.40L287.80 331.20L285.80 326.00L283.70 318.70L281.60 316.60L279.50 318.20L276.40 318.70L274.30 315.60L274.30 310.40L274.80 305.20L275.40 300.00L276.50 297.00L278.50 294.00L278.00 290.00L276.50 287.00L276.50 284.50L274.00 283.50L270.00 283.00L267.50 282.00L266.50 279.00L266.00 275.00L265.50 271.50L265.00 268.00L264.00 265.00L262.50 262.50L261.00 260.50L263.00 260.20L268.00 262.30L273.00 264.60L278.00 266.80L283.00 269.20L288.00 271.90L290.20 273.20L289.30 275.80L291.10 281.00L291.90 285.30L291.10 289.70L293.70 291.40L296.30 295.70L295.40 298.30L298.00 299.20L300.60 295.70L304.10 294.90L306.70 292.30L309.30 291.40L311.00 289.70L314.50 288.80L317.10 289.70L319.70 288.80L321.40 287.10L323.10 283.60L322.30 280.10L324.00 277.50L323.10 274.10L325.70 268.90L328.00 266.50L330.50 265.20L326.00 265.00L322.00 265.00L319.90 263.80L318.60 261.20L319.10 256.00L320.80 249.90L321.70 245.60L325.10 243.90L326.00 241.30L328.60 236.90L329.50 233.50L327.70 230.00L330.00 227.40L332.70 224.70L335.50 223.30L341.00 221.20Z" fill="#fff" stroke="#000" stroke-width="1.0" stroke-linejoin="round"/>
<path d="M309.50 270.50L312.50 269.20L316.00 270.50L318.00 273.50L317.00 277.00L315.20 280.50L313.50 282.50L312.00 280.00L311.50 276.00L309.80 273.50Z" fill="#fff" stroke="#000" stroke-width="0.6"/>
<g fill="none" stroke="#000" stroke-width="0.9"><circle cx="348.4" cy="305.3" r="22.1"/><circle cx="348.4" cy="305.3" r="44.2"/><circle cx="348.4" cy="305.3" r="66.1"/><circle cx="348.4" cy="305.3" r="88.0"/><circle cx="348.4" cy="305.3" r="110.0"/><circle cx="348.4" cy="305.3" r="132.0"/><path d="M348.4 305.3L348.40 -94.70M348.4 305.3L694.81 105.30M348.4 305.3L694.81 505.30M348.4 305.3L348.40 705.30M348.4 305.3L1.99 505.30M348.4 305.3L1.99 105.30"/></g>
</g>
<path d="M478.60 222.13L478.42 221.84L477.91 221.05L477.39 220.25L476.86 219.46L476.33 218.68L475.80 217.89L475.26 217.11L474.72 216.34L474.17 215.56L473.62 214.79L473.06 214.03L472.50 213.26L471.93 212.50L471.36 211.75L470.78 211.00L470.20 210.25L469.61 209.50L469.02 208.76L468.43 208.02L467.83 207.29L467.23 206.56L466.62 205.83L466.01 205.10L465.39 204.38L464.77 203.67L464.14 202.96L463.51 202.25L462.88 201.54L462.24 200.84L461.60 200.15L460.95 199.45L460.30 198.77L459.64 198.08L458.98 197.40L458.32 196.72L457.65 196.05L456.98 195.38L456.30 194.72L455.62 194.06L454.93 193.40L454.25 192.75L453.55 192.10L452.86 191.46L452.16 190.82L451.45 190.19L450.74 189.56L450.03 188.93L449.32 188.31L448.60 187.69L447.87 187.08L447.14 186.47L446.41 185.87L445.68 185.27L444.94 184.68L444.20 184.09L443.45 183.50L442.70 182.92L441.95 182.34L441.20 181.77L440.44 181.20L439.67 180.64L438.91 180.08L438.14 179.53L437.36 178.98L436.59 178.44L435.81 177.90L435.02 177.37L434.24 176.84L433.45 176.31L432.65 175.79L432.04 175.40L264.76 175.40L264.15 175.79L263.35 176.31L262.56 176.84L261.78 177.37L260.99 177.90L260.21 178.44L259.44 178.98L258.66 179.53L257.89 180.08L257.13 180.64L256.36 181.20L255.60 181.77L254.85 182.34L254.10 182.92L253.35 183.50L252.60 184.09L251.86 184.68L251.12 185.27L250.39 185.87L249.66 186.47L248.93 187.08L248.20 187.69L247.48 188.31L246.77 188.93L246.06 189.56L245.35 190.19L244.64 190.82L243.94 191.46L243.25 192.10L242.55 192.75L241.87 193.40L241.18 194.06L240.50 194.72L239.82 195.38L239.15 196.05L238.48 196.72L237.82 197.40L237.16 198.08L236.50 198.77L235.85 199.45L235.20 200.15L234.56 200.84L233.92 201.54L233.29 202.25L232.66 202.96L232.03 203.67L231.41 204.38L230.79 205.10L230.18 205.83L229.57 206.56L228.97 207.29L228.37 208.02L227.78 208.76L227.19 209.50L226.60 210.25L226.02 211.00L225.44 211.75L224.87 212.50L224.30 213.26L223.74 214.03L223.18 214.79L222.63 215.56L222.08 216.34L221.54 217.11L221.00 217.89L220.47 218.68L219.94 219.46L219.41 220.25L218.89 221.05L218.38 221.84L217.87 222.64L217.37 223.45L216.87 224.25L216.80 224.36L216.80 386.24L216.87 386.35L217.37 387.15L217.87 387.96L218.38 388.76L218.89 389.55L219.41 390.35L219.94 391.14L220.47 391.92L221.00 392.71L221.54 393.49L222.08 394.26L222.63 395.04L223.18 395.81L223.74 396.57L224.30 397.34L224.87 398.10L225.44 398.85L226.02 399.60L226.60 400.35L227.19 401.10L227.78 401.84L228.37 402.58L228.97 403.31L229.57 404.04L230.18 404.77L230.79 405.50L231.41 406.22L232.03 406.93L232.66 407.64L233.29 408.35L233.92 409.06L234.56 409.76L235.20 410.45L235.85 411.15L236.50 411.83L237.16 412.52L237.82 413.20L238.48 413.88L239.15 414.55L239.82 415.22L240.50 415.88L241.18 416.54L241.87 417.20L242.55 417.85L243.25 418.50L243.94 419.14L244.64 419.78L245.35 420.41L246.06 421.04L246.77 421.67L247.48 422.29L248.20 422.91L248.93 423.52L249.66 424.13L250.39 424.73L251.12 425.33L251.86 425.92L252.60 426.51L253.35 427.10L254.10 427.68L254.85 428.26L255.60 428.83L256.36 429.40L257.13 429.96L257.89 430.52L258.66 431.07L259.44 431.62L260.21 432.16L260.99 432.70L261.78 433.23L262.56 433.76L263.35 434.29L264.15 434.81L264.94 435.32L265.74 435.83L266.55 436.33L267.35 436.83L267.95 437.20L428.85 437.20L429.45 436.83L430.25 436.33L431.06 435.83L431.86 435.32L432.65 434.81L433.45 434.29L434.24 433.76L435.02 433.23L435.81 432.70L436.59 432.16L437.36 431.62L438.14 431.07L438.91 430.52L439.67 429.96L440.44 429.40L441.20 428.83L441.95 428.26L442.70 427.68L443.45 427.10L444.20 426.51L444.94 425.92L445.68 425.33L446.41 424.73L447.14 424.13L447.87 423.52L448.60 422.91L449.32 422.29L450.03 421.67L450.74 421.04L451.45 420.41L452.16 419.78L452.86 419.14L453.55 418.50L454.25 417.85L454.93 417.20L455.62 416.54L456.30 415.88L456.98 415.22L457.65 414.55L458.32 413.88L458.98 413.20L459.64 412.52L460.30 411.83L460.95 411.15L461.60 410.45L462.24 409.76L462.88 409.06L463.51 408.35L464.14 407.64L464.77 406.93L465.39 406.22L466.01 405.50L466.62 404.77L467.23 404.04L467.83 403.31L468.43 402.58L469.02 401.84L469.61 401.10L470.20 400.35L470.78 399.60L471.36 398.85L471.93 398.10L472.50 397.34L473.06 396.57L473.62 395.81L474.17 395.04L474.72 394.26L475.26 393.49L475.80 392.71L476.33 391.92L476.86 391.14L477.39 390.35L477.91 389.55L478.42 388.76L478.60 388.47Z" fill="none" stroke="#222" stroke-width="0.8"/>
<path d="M259.30 282.50L183.95 166.52" stroke="#000" stroke-width="1.6" fill="none" stroke-linecap="butt"/><path d="M180.30 160.90L186.99 165.14L181.46 168.74Z" fill="#000"/>
<path d="M297.80 264.40L297.80 167.90" stroke="#000" stroke-width="1.6" fill="none" stroke-linecap="butt"/><path d="M297.80 161.20L301.10 168.40L294.50 168.40Z" fill="#000"/>
<path d="M335.80 202.00L376.89 165.55" stroke="#000" stroke-width="1.6" fill="none" stroke-linecap="butt"/><path d="M381.90 161.10L378.70 168.35L374.32 163.41Z" fill="#000"/>
<path d="M436.10 255.10L512.91 166.46" stroke="#000" stroke-width="1.6" fill="none" stroke-linecap="butt"/><path d="M517.30 161.40L515.08 169.00L510.09 164.68Z" fill="#000"/>
<path d="M274.90 330.70L201.62 280.30" stroke="#000" stroke-width="1.6" fill="none" stroke-linecap="butt"/><path d="M196.10 276.50L203.90 277.86L200.16 283.30Z" fill="#000"/>
<path d="M449.70 265.40L482.91 254.92" stroke="#000" stroke-width="1.6" fill="none" stroke-linecap="butt"/><path d="M489.30 252.90L483.43 258.21L481.44 251.92Z" fill="#000"/>
<path d="M358.50 369.20L205.60 372.55" stroke="#000" stroke-width="1.6" fill="none" stroke-linecap="butt"/><path d="M198.90 372.70L206.03 369.24L206.17 375.84Z" fill="#000"/>
<path d="M452.50 276.50L497.49 318.34" stroke="#000" stroke-width="1.6" fill="none" stroke-linecap="butt"/><path d="M502.40 322.90L494.88 320.41L499.37 315.58Z" fill="#000"/>
<path d="M423.60 399.20L317.96 448.85" stroke="#000" stroke-width="1.6" fill="none" stroke-linecap="butt"/><path d="M311.90 451.70L317.01 445.65L319.82 451.62Z" fill="#000"/>
<path d="M456.40 344.20L456.40 433.80" stroke="#000" stroke-width="1.6" fill="none" stroke-linecap="butt"/><path d="M456.40 440.50L453.10 433.30L459.70 433.30Z" fill="#000"/>
<path d="M452.50 295.90L516.23 436.50" stroke="#000" stroke-width="1.6" fill="none" stroke-linecap="butt"/><path d="M519.00 442.60L513.02 437.40L519.03 434.68Z" fill="#000"/>
</svg>
</body></html>
